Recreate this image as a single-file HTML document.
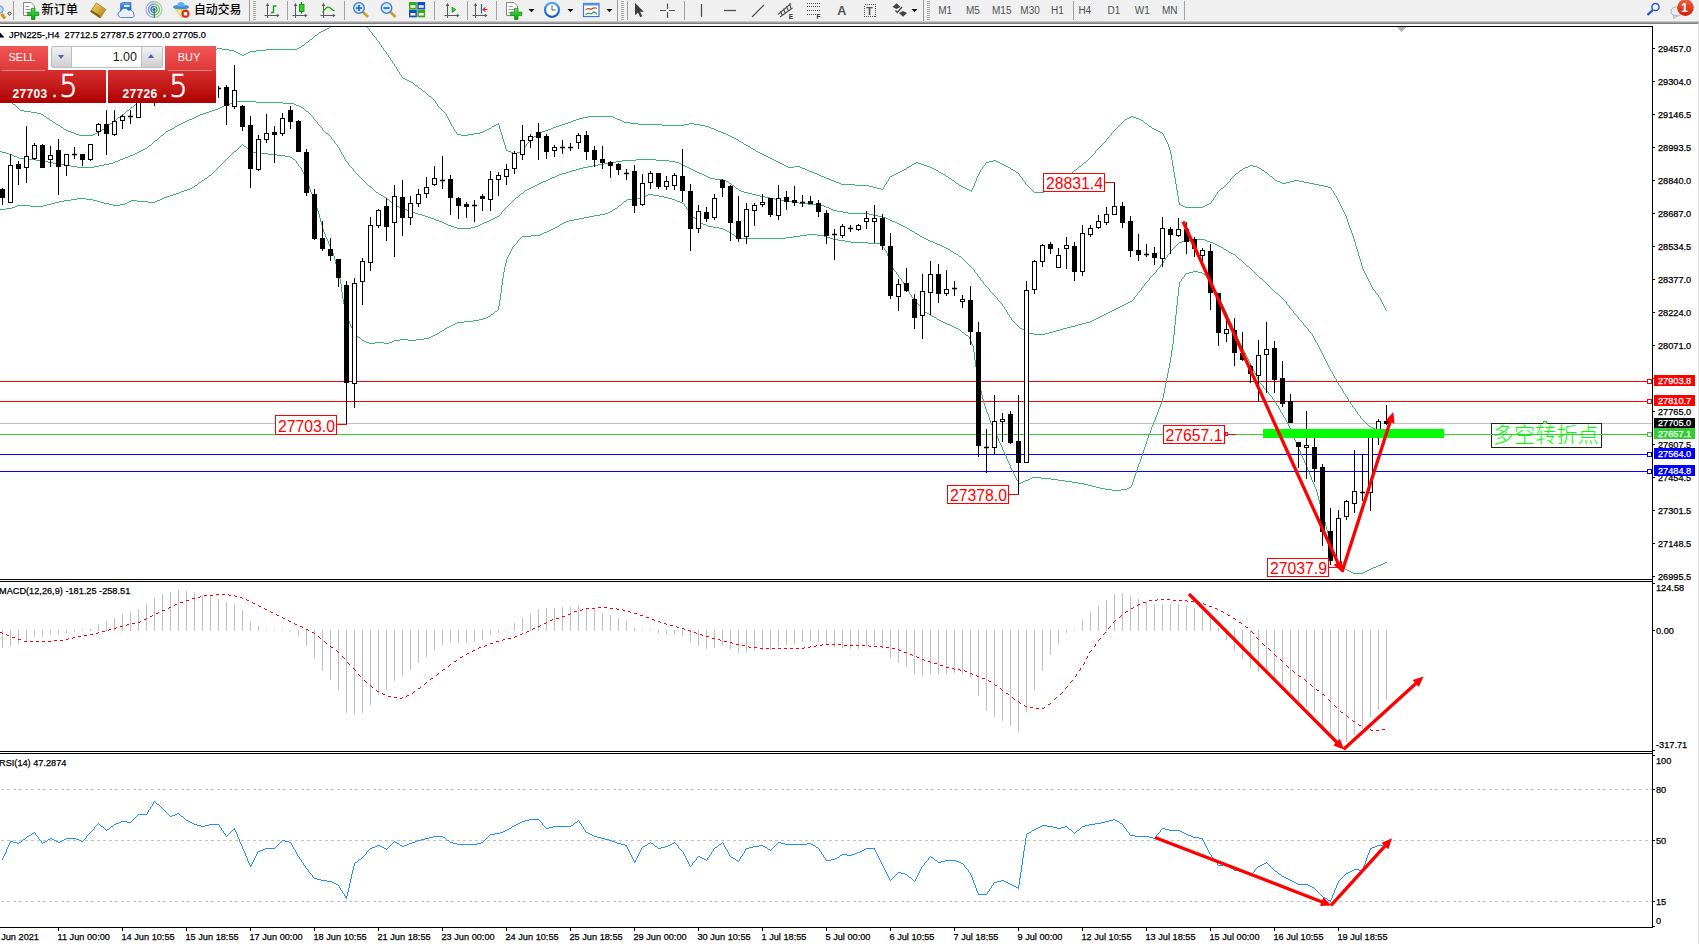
<!DOCTYPE html><html><head><meta charset="utf-8"><title>JPN225 H4</title>
<style>
html,body{margin:0;padding:0;background:#fff;}
body{width:1699px;height:944px;overflow:hidden;position:relative;font-family:"Liberation Sans", "Noto Sans CJK SC", sans-serif;}
#tb{position:absolute;left:0;top:0;width:1699px;height:22px;background:#f0f0f0;}
#tbl{position:absolute;left:0;top:21px;width:1699px;height:3px;background:linear-gradient(#dcdcdc,#a6a6a6 45%,#6c6c6c);}
#chart{position:absolute;left:0;top:0;}
svg text{font-family:"Liberation Sans", "Noto Sans CJK SC", sans-serif;}
.ax{font-size:9.2px;fill:#000;stroke:#000;stroke-width:0.25px;}
.lb{font-size:16px;fill:#f00;}
.tf{font-size:10px;fill:#505050;}
.cn{font-size:12.5px;fill:#000;font-weight:500;}
#panel{position:absolute;left:0;top:46px;width:216px;height:57px;}
#panel div{position:absolute;box-sizing:border-box;}
.pb{background:linear-gradient(#f25555,#e03a3a);color:#fff;font-size:11.5px;text-align:center;line-height:23px;}
.pp{background:linear-gradient(#d83030,#c41a1a 50%,#ae0000);color:#fff;}
.sm{font-weight:bold;font-size:12px;color:#fff;}
.bg{font-family:"DejaVu Sans Light","DejaVu Sans",sans-serif;font-weight:200;font-size:32px;color:#fff;line-height:33px;transform:scaleX(0.9);transform-origin:0 0;-webkit-text-stroke:0.7px #fff;}
</style></head><body>
<div id="tb"></div><div id="tbl"></div>
<svg id="chart" width="1699" height="944" viewBox="0 0 1699 944">
<g shape-rendering="crispEdges">
<rect x="1698" y="23" width="1" height="921" fill="#e3e3e3"/>
<rect x="0" y="26" width="1653" height="1" fill="#000"/>
<rect x="1652" y="26" width="1" height="902" fill="#000"/>
<rect x="0" y="579" width="1653" height="1" fill="#000"/>
<rect x="0" y="581" width="1653" height="1" fill="#000"/>
<rect x="0" y="751" width="1653" height="1" fill="#000"/>
<rect x="0" y="753" width="1653" height="1" fill="#000"/>
<rect x="0" y="927" width="1653" height="1" fill="#000"/>
<polygon points="1396,27 1406,27 1401,32" fill="#b4b4b4"/>
<rect x="0" y="423" width="1652" height="1" fill="#c0c0c0"/>
<rect x="0" y="381" width="1647" height="1" fill="#f00"/>
<rect x="0" y="401" width="1647" height="1" fill="#f00"/>
<rect x="0" y="434" width="1647" height="1" fill="#32cd32"/>
<rect x="0" y="454" width="1647" height="1" fill="#00f"/>
<rect x="0" y="471" width="1647" height="1" fill="#00f"/>
</g>
<clipPath id="cm"><rect x="0" y="27" width="1652" height="552"/></clipPath>
<g clip-path="url(#cm)" shape-rendering="crispEdges">
<path fill="none" stroke="#3cb371" stroke-width="1" d="M340 18.5h16M339.5 19v1M356 19.5h2M337 20.5h2M358.5 20v1M336.5 21v1M359.5 21v1M335.5 22v1M360 22.5h2M334.5 23v1M362.5 23v1M333.5 24v1M363.5 24v1M331 25.5h2M364 25.5h2M330.5 26v1M366.5 26v1M329.5 27v1M367.5 27v1M327 28.5h2M368.5 28v1M325 29.5h2M369.5 29v2M323 30.5h2M321 31.5h2M370.5 31v1M319 32.5h2M371.5 32v1M318.5 33v1M372.5 33v2M317.5 34v1M315 35.5h2M373.5 35v1M314.5 36v1M374.5 36v1M313.5 37v1M375.5 37v1M312.5 38v1M376.5 38v2M310 39.5h2M309.5 40v1M377.5 40v1M308.5 41v1M378.5 41v1M306 42.5h2M379.5 42v2M305.5 43v1M304.5 44v1M380.5 44v1M302 45.5h2M381.5 45v2M301.5 46v1M299 47.5h2M382.5 47v1M217 48.5h5M297 48.5h2M383.5 48v2M214 49.5h3M222 49.5h7M266 49.5h31M210 50.5h4M229 50.5h5M256 50.5h10M384.5 50v1M207 51.5h3M234 51.5h2M250 51.5h6M385.5 51v1M205 52.5h2M236 52.5h2M248 52.5h2M386.5 52v2M203 53.5h2M238 53.5h2M246 53.5h2M202.5 54v1M240 54.5h2M244 54.5h2M387.5 54v1M200 55.5h2M242 55.5h2M388.5 55v2M198 56.5h2M197.5 57v1M389.5 57v1M195 58.5h2M390.5 58v2M194.5 59v1M192 60.5h2M391.5 60v1M191.5 61v1M392.5 61v2M189 62.5h2M188.5 63v1M393.5 63v1M186 64.5h2M394.5 64v2M184 65.5h2M183.5 66v1M395.5 66v1M181 67.5h2M396.5 67v2M180.5 68v1M179.5 69v1M397.5 69v2M177 70.5h2M176.5 71v1M398.5 71v1M175.5 72v1M399.5 72v2M174.5 73v1M172 74.5h2M400.5 74v1M171.5 75v1M401.5 75v2M170.5 76v1M169.5 77v1M402.5 77v1M167 78.5h2M403 78.5h2M166.5 79v1M405 79.5h2M165.5 80v1M407 80.5h2M164.5 81v1M409 81.5h2M162 82.5h2M411 82.5h2M161.5 83v1M413.5 83v1M160.5 84v1M414.5 84v1M159.5 85v1M415 85.5h2M157 86.5h2M417.5 86v1M156.5 87v1M418.5 87v1M155.5 88v1M419 88.5h2M154.5 89v1M421.5 89v1M152 90.5h2M422.5 90v1M151.5 91v1M423 91.5h2M150.5 92v1M425.5 92v1M149.5 93v1M426.5 93v1M147 94.5h2M427.5 94v1M0.5 95v1M146.5 95v1M428.5 95v1M1 96.5h2M145.5 96v1M429 96.5h2M3.5 97v1M144.5 97v1M431.5 97v1M4 98.5h2M143.5 98v1M432.5 98v1M6.5 99v1M141 99.5h2M433.5 99v1M7 100.5h2M140.5 100v1M434.5 100v1M9.5 101v1M139.5 101v1M435.5 101v2M10 102.5h2M138.5 102v1M12.5 103v1M136 103.5h2M436.5 103v1M13 104.5h2M135.5 104v1M437.5 104v2M15.5 105v1M134.5 105v1M16.5 106v1M133.5 106v1M438.5 106v1M17.5 107v1M131 107.5h2M439.5 107v1M18.5 108v1M130.5 108v1M440.5 108v1M19.5 109v1M129.5 109v1M441.5 109v1M20 110.5h4M127 110.5h2M442.5 110v1M24 111.5h7M126.5 111v1M443.5 111v1M31 112.5h6M125.5 112v1M444.5 112v1M37 113.5h4M124.5 113v1M445.5 113v1M41 114.5h2M122 114.5h2M446.5 114v2M43.5 115v1M121.5 115v1M44 116.5h2M120.5 116v1M447.5 116v2M588 116.5h25M1131 116.5h2M46.5 117v1M118 117.5h2M583 117.5h5M613 117.5h2M1129 117.5h2M1133 117.5h3M47 118.5h2M117.5 118v1M448.5 118v2M579 118.5h4M615 118.5h2M1127 118.5h2M1136 118.5h3M49.5 119v1M116.5 119v1M576 119.5h3M617 119.5h3M1125 119.5h2M1139 119.5h2M50 120.5h2M114 120.5h2M449.5 120v2M573 120.5h3M620 120.5h2M1124.5 120v1M1141 120.5h2M52.5 121v1M113.5 121v1M571 121.5h2M622 121.5h2M1123.5 121v1M1143.5 121v1M53 122.5h2M112.5 122v1M450.5 122v2M568 122.5h3M624 122.5h6M1122.5 122v1M1144.5 122v1M55.5 123v1M110 123.5h2M498.5 123v1M565 123.5h3M630 123.5h8M689 123.5h5M1121.5 123v1M1145 123.5h2M56 124.5h2M109.5 124v1M451.5 124v2M496 124.5h3M562 124.5h3M638 124.5h24M684 124.5h5M694 124.5h6M1120.5 124v1M1147.5 124v1M58 125.5h2M108.5 125v1M494 125.5h2M499.5 125v4M559 125.5h3M662 125.5h22M700 125.5h5M1119.5 125v1M1148.5 125v1M60.5 126v1M106 126.5h2M452.5 126v1M492 126.5h2M556 126.5h3M705 126.5h4M1118.5 126v1M1149 126.5h2M61 127.5h2M105.5 127v1M453.5 127v2M491.5 127v1M553 127.5h3M709 127.5h2M1117.5 127v1M1151.5 127v1M63.5 128v1M104.5 128v1M489 128.5h2M551 128.5h2M711 128.5h3M1116.5 128v1M1152 128.5h2M64 129.5h2M102 129.5h2M454.5 129v2M487 129.5h2M500.5 129v3M548 129.5h3M714 129.5h2M1115.5 129v1M1154 129.5h2M66 130.5h2M101.5 130v1M485 130.5h2M545 130.5h3M716 130.5h2M1114.5 130v1M1156 130.5h2M68 131.5h3M99 131.5h2M455.5 131v1M483 131.5h2M542 131.5h3M718 131.5h3M1113.5 131v1M1158 131.5h2M71 132.5h3M97 132.5h2M456.5 132v2M480 132.5h3M501.5 132v3M540 132.5h2M721 132.5h2M1112.5 132v1M1160 132.5h2M74 133.5h2M95 133.5h2M474 133.5h6M538 133.5h2M723 133.5h3M1111.5 133v2M1162.5 133v1M76 134.5h3M93 134.5h2M457 134.5h4M468 134.5h6M537.5 134v1M726 134.5h2M1163.5 134v2M79 135.5h14M461 135.5h7M502.5 135v4M536.5 135v1M728 135.5h2M1110.5 135v1M534 136.5h2M730 136.5h2M1109.5 136v1M1164.5 136v2M533.5 137v1M732 137.5h2M1108.5 137v1M531 138.5h2M734 138.5h2M1107.5 138v1M1165.5 138v2M503.5 139v3M530.5 139v1M736 139.5h2M1106.5 139v2M529.5 140v2M738.5 140v1M1166.5 140v2M739 141.5h2M1105.5 141v1M504.5 142v3M528.5 142v1M741 142.5h2M1104.5 142v1M1167.5 142v2M527.5 143v1M743.5 143v1M1103.5 143v1M526.5 144v2M744 144.5h2M1102.5 144v1M1168.5 144v3M505.5 145v4M746 145.5h2M1101.5 145v1M525.5 146v1M748 146.5h2M1100.5 146v1M524.5 147v2M750.5 147v1M1099.5 147v1M1169.5 147v3M751 148.5h2M1098.5 148v1M506.5 149v1M523.5 149v2M753 149.5h2M1097.5 149v1M506 150.5h2M755.5 150v1M1096.5 150v1M1170.5 150v4M508 151.5h3M521 151.5h2M756 151.5h2M1095.5 151v2M511 152.5h2M517 152.5h4M758 152.5h2M513 153.5h4M760 153.5h2M1094.5 153v1M762 154.5h2M1093.5 154v1M1171.5 154v6M764 155.5h2M1092.5 155v1M766 156.5h2M1091.5 156v1M768 157.5h2M1090.5 157v1M770 158.5h2M1089.5 158v1M772 159.5h2M1088.5 159v1M774 160.5h2M993 160.5h3M1087.5 160v1M1172.5 160v6M776 161.5h2M989 161.5h4M996 161.5h2M1086.5 161v1M778 162.5h2M916 162.5h2M986 162.5h3M998 162.5h2M1084 162.5h2M780 163.5h2M914 163.5h2M918 163.5h3M985.5 163v2M1000 163.5h2M1083.5 163v1M782 164.5h2M912 164.5h2M921 164.5h3M1002 164.5h2M1082.5 164v1M784 165.5h2M911.5 165v1M924 165.5h3M984.5 165v1M1004 165.5h2M1081.5 165v1M1250 165.5h3M786 166.5h2M794 166.5h6M909 166.5h2M927 166.5h3M983.5 166v1M1006 166.5h2M1079 166.5h2M1173.5 166v6M1248 166.5h2M1253 166.5h4M788 167.5h6M800 167.5h2M907 167.5h2M930 167.5h2M982.5 167v2M1008 167.5h2M1078.5 167v1M1245 167.5h3M1257 167.5h2M802 168.5h3M906.5 168v1M932 168.5h2M1010.5 168v1M1077.5 168v1M1243 168.5h2M1259 168.5h2M805 169.5h2M904 169.5h2M934 169.5h2M981.5 169v1M1011 169.5h2M1076.5 169v1M1242.5 169v1M1261.5 169v1M807 170.5h2M902 170.5h2M936 170.5h2M980.5 170v2M1013 170.5h2M1074 170.5h2M1240 170.5h2M1262 170.5h2M809 171.5h3M900 171.5h2M938.5 171v1M1015.5 171v1M1073.5 171v1M1239.5 171v1M1264.5 171v1M812 172.5h2M898 172.5h2M939 172.5h2M979.5 172v2M1016 172.5h2M1072.5 172v1M1174.5 172v6M1238.5 172v1M1265 172.5h2M814 173.5h3M896 173.5h2M941 173.5h2M1018.5 173v1M1070 173.5h2M1236 173.5h2M1267.5 173v1M817 174.5h2M894 174.5h2M943 174.5h2M978.5 174v2M1019.5 174v2M1069.5 174v1M1235.5 174v1M1268.5 174v1M819 175.5h2M892 175.5h2M945.5 175v1M1068.5 175v1M1234.5 175v1M1269.5 175v1M821 176.5h3M890 176.5h2M946 176.5h2M977.5 176v2M1020.5 176v1M1066 176.5h2M1233.5 176v1M1270 176.5h2M824 177.5h2M889.5 177v2M948.5 177v1M1021.5 177v1M1065.5 177v1M1232.5 177v1M1272.5 177v1M826 178.5h3M949 178.5h2M976.5 178v3M1022.5 178v2M1063 178.5h2M1175.5 178v6M1231.5 178v1M1273.5 178v1M829 179.5h2M888.5 179v2M951.5 179v1M1062.5 179v1M1230.5 179v2M1274.5 179v1M831 180.5h3M952 180.5h2M1023.5 180v1M1060 180.5h2M1275 180.5h2M1294 180.5h5M834 181.5h2M887.5 181v1M954.5 181v1M975.5 181v2M1024.5 181v1M1059.5 181v1M1229.5 181v1M1277 181.5h3M1290 181.5h4M1299 181.5h5M836 182.5h3M886.5 182v2M955.5 182v1M1025.5 182v2M1058.5 182v1M1228.5 182v1M1280 182.5h2M1286 182.5h4M1304 182.5h5M839 183.5h2M956 183.5h2M974.5 183v3M1056 183.5h2M1227.5 183v1M1282 183.5h4M1309 183.5h5M841 184.5h14M885.5 184v1M958.5 184v1M1026.5 184v1M1055.5 184v1M1176.5 184v6M1226.5 184v1M1314 184.5h5M855 185.5h14M884.5 185v2M959 185.5h2M1027.5 185v1M1053 185.5h2M1225.5 185v1M1319 185.5h5M869 186.5h4M961 186.5h2M973.5 186v2M1028.5 186v1M1052.5 186v1M1224.5 186v1M1324 186.5h4M873 187.5h4M883.5 187v2M963 187.5h2M1029.5 187v1M1050 187.5h2M1223.5 187v1M1328 187.5h3M877 188.5h4M965 188.5h2M972.5 188v2M1030.5 188v1M1049.5 188v1M1221 188.5h2M1331.5 188v2M881 189.5h2M967 189.5h2M1031.5 189v1M1047 189.5h2M1220.5 189v1M969 190.5h3M1032.5 190v1M1046.5 190v1M1177.5 190v6M1219.5 190v1M1332.5 190v1M971.5 191v1M1033.5 191v1M1044 191.5h2M1218.5 191v1M1333.5 191v2M1034 192.5h10M1217.5 192v2M1334.5 193v2M1216.5 194v1M1215.5 195v2M1335.5 195v1M1178.5 196v6M1336.5 196v2M1214.5 197v1M1213.5 198v2M1337.5 198v2M1212.5 200v1M1338.5 200v2M1211.5 201v2M1179.5 202v2M1339.5 202v2M1209 203.5h2M1179 204.5h2M1207 204.5h2M1340.5 204v2M1181 205.5h2M1205 205.5h2M1183 206.5h2M1203 206.5h2M1341.5 206v2M1185 207.5h18M1342.5 208v2M1343.5 210v2M1344.5 212v2M1345.5 214v2M1346.5 216v3M1347.5 219v3M1348.5 222v3M1349.5 225v3M1350.5 228v2M1351.5 230v3M1352.5 233v3M1353.5 236v3M1354.5 239v3M1355.5 242v4M1356.5 246v3M1357.5 249v3M1358.5 252v4M1359.5 256v3M1360.5 259v3M1361.5 262v4M1362.5 266v3M1363.5 269v2M1364.5 271v2M1365.5 273v2M1366.5 275v2M1367.5 277v2M1368.5 279v2M1369.5 281v2M1370.5 283v2M1371.5 285v2M1372.5 287v2M1373.5 289v1M1374.5 290v1M1375.5 291v2M1376.5 293v1M1377.5 294v1M1378.5 295v2M1379.5 297v1M1380.5 298v2M1381.5 300v2M1382.5 302v2M1383.5 304v2M1384.5 306v2M1385.5 308v2M1386.5 310v1"/>
<path fill="none" stroke="#3cb371" stroke-width="1" d="M237 101.5h19M234 102.5h3M256 102.5h27M230 103.5h4M283 103.5h11M227 104.5h3M294 104.5h2M224 105.5h3M296 105.5h3M222 106.5h2M299 106.5h2M220 107.5h2M301 107.5h2M218 108.5h2M303.5 108v1M215 109.5h3M304.5 109v1M212 110.5h3M305.5 110v1M209 111.5h3M306 111.5h2M206 112.5h3M308.5 112v1M203 113.5h3M309.5 113v1M200 114.5h3M310.5 114v1M198 115.5h2M311.5 115v1M196 116.5h2M312.5 116v1M194 117.5h2M313.5 117v2M192 118.5h2M189 119.5h3M314.5 119v1M187 120.5h2M315.5 120v1M185 121.5h2M316.5 121v1M183 122.5h2M317.5 122v2M181 123.5h2M179 124.5h2M318.5 124v1M177 125.5h2M319.5 125v1M175 126.5h2M320.5 126v1M174.5 127v1M321.5 127v1M172 128.5h2M322.5 128v2M170 129.5h2M168 130.5h2M323.5 130v1M166 131.5h2M324.5 131v1M165.5 132v1M325.5 132v1M164.5 133v1M326 133.5h2M163.5 134v1M328.5 134v1M161 135.5h2M329.5 135v1M160.5 136v1M330.5 136v1M159.5 137v1M331.5 137v2M158.5 138v1M157.5 139v1M332.5 139v1M155 140.5h2M333.5 140v1M154.5 141v1M334.5 141v2M153.5 142v1M152.5 143v1M335.5 143v1M151.5 144v1M336.5 144v1M149 145.5h2M337.5 145v2M148.5 146v1M147.5 147v1M338.5 147v1M145 148.5h2M339.5 148v2M143 149.5h2M141 150.5h2M340.5 150v2M0 151.5h2M139 151.5h2M2 152.5h4M137 152.5h2M341.5 152v2M6 153.5h3M135 153.5h2M9 154.5h3M133 154.5h2M342.5 154v1M12 155.5h2M130 155.5h3M343.5 155v2M14 156.5h3M128 156.5h2M17 157.5h2M125 157.5h3M344.5 157v2M19 158.5h7M123 158.5h2M26 159.5h10M120 159.5h3M345.5 159v2M636 159.5h20M36 160.5h7M118 160.5h2M622 160.5h14M656 160.5h13M43 161.5h5M115 161.5h3M346.5 161v1M616 161.5h6M669 161.5h6M48 162.5h5M113 162.5h2M347.5 162v1M610 162.5h6M675 162.5h4M53 163.5h5M109 163.5h4M348.5 163v2M604 163.5h6M679 163.5h2M58 164.5h6M104 164.5h5M598 164.5h6M681 164.5h2M64 165.5h7M99 165.5h5M349.5 165v1M593 165.5h5M683 165.5h2M71 166.5h6M94 166.5h5M350.5 166v1M588 166.5h5M685 166.5h2M77 167.5h17M351.5 167v1M583 167.5h5M687 167.5h2M352.5 168v1M579 168.5h4M689 168.5h2M353.5 169v2M576 169.5h3M691 169.5h2M572 170.5h4M693 170.5h2M354.5 171v1M569 171.5h3M695 171.5h2M355.5 172v1M566 172.5h3M697 172.5h2M356.5 173v1M562 173.5h4M699 173.5h3M357.5 174v1M559 174.5h3M702 174.5h2M358.5 175v1M557 175.5h2M704 175.5h2M359.5 176v1M555 176.5h2M706 176.5h2M360.5 177v1M552 177.5h3M708 177.5h2M361.5 178v1M550 178.5h2M710 178.5h5M362.5 179v1M548 179.5h2M715 179.5h7M363.5 180v1M546 180.5h2M722 180.5h4M364.5 181v1M543 181.5h3M726 181.5h2M365.5 182v1M541 182.5h2M728.5 182v1M366.5 183v1M539 183.5h2M729 183.5h2M367.5 184v1M537 184.5h2M731.5 184v1M368.5 185v1M535 185.5h2M732 185.5h2M369 186.5h2M533 186.5h2M734.5 186v1M371.5 187v1M531 187.5h2M735.5 187v1M372.5 188v1M529 188.5h2M736 188.5h2M373.5 189v1M527 189.5h2M738.5 189v1M374.5 190v1M525 190.5h2M739 190.5h2M375.5 191v1M524.5 191v1M741 191.5h3M376 192.5h2M523.5 192v1M744 192.5h4M378.5 193v1M521 193.5h2M748 193.5h4M379 194.5h2M520.5 194v1M752 194.5h4M381 195.5h2M519.5 195v1M756 195.5h4M383.5 196v1M518.5 196v1M760 196.5h5M384 197.5h2M516 197.5h2M765 197.5h5M386.5 198v1M515.5 198v1M770 198.5h5M387 199.5h2M514.5 199v1M775 199.5h5M389.5 200v1M513.5 200v1M780 200.5h6M390.5 201v1M512.5 201v1M786 201.5h7M391 202.5h2M511.5 202v1M793 202.5h6M393.5 203v1M510.5 203v1M799 203.5h9M394.5 204v1M509.5 204v1M808 204.5h10M395 205.5h2M508.5 205v1M818 205.5h6M397 206.5h2M507.5 206v1M824 206.5h2M399 207.5h3M506.5 207v1M826 207.5h3M402 208.5h2M505.5 208v1M829 208.5h2M404 209.5h3M504.5 209v1M831 209.5h2M407 210.5h3M503.5 210v1M833 210.5h4M410 211.5h2M502.5 211v1M837 211.5h6M412 212.5h3M501.5 212v2M843 212.5h5M415 213.5h3M848 213.5h21M418 214.5h4M500.5 214v1M869 214.5h4M422 215.5h3M499.5 215v1M873 215.5h5M425 216.5h3M497 216.5h2M878 216.5h4M428 217.5h3M495 217.5h2M882 217.5h4M431 218.5h3M493 218.5h2M886 218.5h2M434 219.5h2M491 219.5h2M888 219.5h2M436 220.5h3M489 220.5h2M890 220.5h2M439 221.5h3M487 221.5h2M892 221.5h3M442 222.5h2M484 222.5h3M895 222.5h2M444 223.5h2M482 223.5h2M897 223.5h2M446 224.5h2M480 224.5h2M899 224.5h2M448 225.5h3M478 225.5h2M901 225.5h2M451 226.5h3M475 226.5h3M903 226.5h2M454 227.5h3M471 227.5h4M905 227.5h2M457 228.5h14M907 228.5h2M909.5 229v1M910 230.5h2M912 231.5h2M914.5 232v1M915 233.5h2M917 234.5h2M919.5 235v1M920 236.5h2M922 237.5h2M924 238.5h2M926 239.5h2M1196 239.5h9M928 240.5h2M1186 240.5h10M1205 240.5h2M930 241.5h3M1182 241.5h4M1207 241.5h3M933 242.5h2M1179 242.5h3M1210 242.5h3M935 243.5h2M1178.5 243v1M1213 243.5h2M937 244.5h3M1177.5 244v1M1215 244.5h2M940 245.5h2M1176.5 245v1M1217 245.5h2M942 246.5h2M1175.5 246v1M1219 246.5h2M944 247.5h2M1174.5 247v1M1221 247.5h2M946 248.5h2M1173.5 248v1M1223.5 248v1M948 249.5h2M1172.5 249v1M1224 249.5h2M950.5 250v1M1171.5 250v1M1226 250.5h2M951 251.5h2M1170.5 251v2M1228.5 251v1M953.5 252v1M1229 252.5h2M954 253.5h2M1169.5 253v1M1231 253.5h2M956 254.5h2M1168.5 254v1M1233 254.5h2M958.5 255v1M1167.5 255v2M1235.5 255v1M959 256.5h2M1236.5 256v1M961.5 257v1M1166.5 257v1M1237.5 257v1M962.5 258v1M1165.5 258v2M1238.5 258v1M963.5 259v1M1239 259.5h2M964.5 260v1M1164.5 260v1M1241.5 260v1M965.5 261v1M1163.5 261v2M1242.5 261v1M966.5 262v1M1243.5 262v1M967.5 263v1M1162.5 263v1M1244.5 263v1M968.5 264v1M1161.5 264v1M1245.5 264v1M969.5 265v1M1160.5 265v2M1246.5 265v1M970.5 266v1M1247 266.5h2M971.5 267v1M1159.5 267v1M1249.5 267v1M972.5 268v1M1158.5 268v1M1250.5 268v1M973.5 269v1M1157.5 269v1M1251.5 269v1M974.5 270v2M1156.5 270v2M1252.5 270v1M1253.5 271v1M975.5 272v1M1155.5 272v1M1254.5 272v1M976.5 273v1M1154.5 273v1M1255.5 273v1M977.5 274v2M1153.5 274v1M1256.5 274v1M1152.5 275v1M1257.5 275v1M978.5 276v1M1151.5 276v1M1258.5 276v1M979.5 277v1M1150.5 277v1M1259.5 277v1M980.5 278v2M1149.5 278v2M1260 278.5h2M1262.5 279v1M981.5 280v1M1148.5 280v1M1263.5 280v1M982.5 281v1M1147.5 281v1M1264.5 281v1M983.5 282v2M1146.5 282v1M1265.5 282v1M1145.5 283v1M1266.5 283v1M984.5 284v1M1144.5 284v2M1267.5 284v1M985.5 285v1M1268.5 285v1M986.5 286v1M1143.5 286v1M1269.5 286v1M987.5 287v1M1142.5 287v1M1270.5 287v1M988.5 288v1M1141.5 288v2M1271.5 288v1M989.5 289v2M1272.5 289v1M1140.5 290v1M1273.5 290v1M990.5 291v1M1139.5 291v1M1274.5 291v1M991.5 292v1M1138.5 292v1M1275.5 292v1M992.5 293v1M1137.5 293v2M1276 293.5h2M993.5 294v1M1278.5 294v1M994.5 295v1M1136.5 295v1M1279.5 295v1M995.5 296v1M1135.5 296v1M1280.5 296v1M996.5 297v1M1134.5 297v2M1281.5 297v1M997.5 298v2M1282.5 298v1M1133.5 299v1M1283.5 299v1M998.5 300v1M1132.5 300v1M1284.5 300v1M999.5 301v1M1130 301.5h2M1285.5 301v1M1000.5 302v1M1128 302.5h2M1286.5 302v2M1001.5 303v1M1126 303.5h2M1002.5 304v2M1124 304.5h2M1287.5 304v1M1122 305.5h2M1288.5 305v1M1003.5 306v1M1120 306.5h2M1289.5 306v2M1004.5 307v2M1118 307.5h2M1116 308.5h2M1290.5 308v1M1005.5 309v1M1114 309.5h2M1291.5 309v1M1006.5 310v2M1112 310.5h2M1292.5 310v1M1110 311.5h2M1293.5 311v2M1007.5 312v2M1108 312.5h2M1106 313.5h2M1294.5 313v1M1008.5 314v1M1104 314.5h2M1295.5 314v1M1009.5 315v2M1102 315.5h2M1296.5 315v1M1100 316.5h2M1297.5 316v1M1010.5 317v1M1098 317.5h2M1298.5 317v2M1011.5 318v2M1096 318.5h2M1094 319.5h2M1299.5 319v1M1012.5 320v1M1092 320.5h2M1300.5 320v1M1013.5 321v1M1090 321.5h2M1301.5 321v1M1014.5 322v1M1086 322.5h4M1302.5 322v1M1015.5 323v1M1082 323.5h4M1303.5 323v2M1016.5 324v1M1078 324.5h4M1017.5 325v1M1075 325.5h3M1304.5 325v1M1018.5 326v1M1071 326.5h4M1305.5 326v1M1019.5 327v1M1067 327.5h4M1306.5 327v1M1020 328.5h2M1063 328.5h4M1307.5 328v1M1022 329.5h2M1060 329.5h3M1308.5 329v2M1024.5 330v1M1056 330.5h4M1025 331.5h2M1053 331.5h3M1309.5 331v1M1027 332.5h2M1049 332.5h4M1310.5 332v1M1029 333.5h5M1045 333.5h4M1311.5 333v1M1034 334.5h11M1312.5 334v2M1313.5 336v2M1314.5 338v2M1315.5 340v2M1316.5 342v1M1317.5 343v2M1318.5 345v2M1319.5 347v2M1320.5 349v2M1321.5 351v2M1322.5 353v2M1323.5 355v2M1324.5 357v2M1325.5 359v2M1326.5 361v2M1327.5 363v2M1328.5 365v2M1329.5 367v2M1330.5 369v2M1331.5 371v1M1332.5 372v2M1333.5 374v2M1334.5 376v2M1335.5 378v1M1336.5 379v2M1337.5 381v2M1338.5 383v2M1339.5 385v1M1340.5 386v2M1341.5 388v1M1342.5 389v2M1343.5 391v2M1344.5 393v1M1345.5 394v2M1346.5 396v1M1347.5 397v2M1348.5 399v2M1349.5 401v1M1350.5 402v2M1351.5 404v1M1352.5 405v2M1353.5 407v1M1354.5 408v1M1355.5 409v2M1356.5 411v1M1357.5 412v2M1358.5 414v1M1359.5 415v1M1360.5 416v2M1361.5 418v1M1362.5 419v1M1363.5 420v1M1364.5 421v1M1365.5 422v1M1366.5 423v1M1367.5 424v1M1368.5 425v1M1369 426.5h2M1371 427.5h2M1373 428.5h2M1375 429.5h7M1382 430.5h5"/>
<path fill="none" stroke="#3cb371" stroke-width="1" d="M242.5 144v1M241.5 145v1M243.5 145v1M240.5 146v1M244 146.5h2M239.5 147v1M246.5 147v1M238.5 148v1M247.5 148v1M237.5 149v1M248.5 149v1M236.5 150v1M249 150.5h2M234 151.5h2M251.5 151v1M233.5 152v1M252 152.5h6M232.5 153v1M258 153.5h10M231.5 154v1M268 154.5h9M230.5 155v1M277 155.5h8M229.5 156v1M285 156.5h5M228.5 157v1M290 157.5h2M227.5 158v1M292.5 158v1M226.5 159v1M293 159.5h2M225.5 160v1M295.5 160v1M224.5 161v1M296.5 161v2M223.5 162v1M222.5 163v1M297.5 163v1M221.5 164v1M298.5 164v2M220.5 165v1M219.5 166v1M299.5 166v1M218.5 167v1M300.5 167v1M217.5 168v1M301.5 168v2M216.5 169v1M215.5 170v1M302.5 170v2M214.5 171v1M213.5 172v1M303.5 172v2M212.5 173v1M211.5 174v1M304.5 174v3M209 175.5h2M208.5 176v1M207.5 177v1M305.5 177v2M205 178.5h2M204.5 179v1M306.5 179v2M202 180.5h2M201.5 181v1M307.5 181v3M199 182.5h2M198.5 183v1M197.5 184v1M308.5 184v2M195 185.5h2M194.5 186v1M309.5 186v3M192 187.5h2M190 188.5h2M187 189.5h3M310.5 189v3M184 190.5h3M181 191.5h3M179 192.5h2M311.5 192v2M176 193.5h3M173 194.5h3M312.5 194v3M648 194.5h5M170 195.5h3M646 195.5h2M653 195.5h6M167 196.5h3M643 196.5h3M659 196.5h5M164 197.5h3M313.5 197v3M641 197.5h2M664 197.5h4M77 198.5h9M162 198.5h2M634 198.5h7M668 198.5h4M71 199.5h6M86 199.5h7M160 199.5h2M627 199.5h7M672 199.5h3M64 200.5h7M93 200.5h4M131 200.5h6M157 200.5h3M314.5 200v3M626.5 200v1M675 200.5h2M59 201.5h5M97 201.5h3M129 201.5h2M137 201.5h11M155 201.5h2M624 201.5h2M677 201.5h3M55 202.5h4M100 202.5h4M127 202.5h2M148 202.5h7M623.5 202v1M680 202.5h2M51 203.5h4M104 203.5h5M125 203.5h2M315.5 203v3M622.5 203v1M682 203.5h2M47 204.5h4M109 204.5h4M120 204.5h5M621.5 204v1M684.5 204v2M17 205.5h13M43 205.5h4M113 205.5h7M619 205.5h2M15 206.5h2M30 206.5h13M316.5 206v2M618.5 206v1M685.5 206v1M12 207.5h3M617.5 207v1M686.5 207v2M6 208.5h6M317.5 208v3M615 208.5h2M0 209.5h6M613 209.5h2M687.5 209v1M612.5 210v1M688.5 210v2M318.5 211v3M610 211.5h2M608 212.5h2M689.5 212v1M605 213.5h3M690.5 213v2M319.5 214v4M600 214.5h5M594 215.5h6M691.5 215v1M589 216.5h5M692.5 216v1M584 217.5h5M693 217.5h2M320.5 218v4M579 218.5h5M695.5 218v1M574 219.5h5M696.5 219v1M569 220.5h5M697.5 220v1M566 221.5h3M698 221.5h2M321.5 222v3M564 222.5h2M700.5 222v1M562 223.5h2M701 223.5h2M560 224.5h2M703 224.5h3M322.5 225v4M559.5 225v1M706 225.5h2M557 226.5h2M708 226.5h5M555 227.5h2M713 227.5h6M553 228.5h2M719 228.5h4M323.5 229v3M551 229.5h2M723 229.5h2M549 230.5h2M725 230.5h2M547 231.5h2M727 231.5h2M324.5 232v2M544 232.5h3M729.5 232v1M542 233.5h2M730 233.5h2M325.5 234v3M540 234.5h2M732 234.5h2M807 234.5h10M531 235.5h9M734.5 235v1M800 235.5h7M817 235.5h7M522 236.5h9M735 236.5h2M793 236.5h7M824 236.5h3M326.5 237v2M521.5 237v1M737 237.5h2M786 237.5h7M827 237.5h3M520.5 238v1M739 238.5h47M830 238.5h3M327.5 239v2M519.5 239v1M833 239.5h5M518.5 240v1M838 240.5h7M328.5 241v3M517.5 241v2M845 241.5h6M851 242.5h17M516.5 243v1M868 243.5h13M329.5 244v2M515.5 244v1M881.5 244v2M514.5 245v1M330.5 246v3M513.5 246v1M882.5 246v1M512.5 247v2M883.5 247v1M884.5 248v2M331.5 249v2M511.5 249v2M885.5 250v1M332.5 251v2M510.5 251v2M886.5 251v2M333.5 253v3M509.5 253v2M887.5 253v3M508.5 255v2M334.5 256v4M888.5 256v2M507.5 257v2M889.5 258v3M506.5 259v4M335.5 260v4M890.5 261v3M505.5 263v4M336.5 264v4M891.5 264v2M892.5 266v2M504.5 267v5M337.5 268v3M893.5 268v2M894.5 270v1M338.5 271v4M895.5 271v1M1193 271.5h5M503.5 272v6M896.5 272v2M1189 272.5h4M1198 272.5h4M1186 273.5h3M1202 273.5h2M897.5 274v1M1185.5 274v1M1204.5 274v1M339.5 275v4M898.5 275v2M1184.5 275v2M1205.5 275v1M1206.5 276v1M899.5 277v1M1183.5 277v1M1207.5 277v1M502.5 278v7M900.5 278v1M1182.5 278v1M1208.5 278v1M340.5 279v5M901.5 279v2M1181.5 279v2M1209.5 279v1M1210.5 280v2M902.5 281v1M1180.5 281v1M903.5 282v2M1179.5 282v5M1211.5 282v2M341.5 284v8M904.5 284v2M1212.5 284v2M501.5 285v8M905.5 286v1M1213.5 286v2M906.5 287v2M1178.5 287v9M1214.5 288v2M907.5 289v1M908.5 290v2M1215.5 290v2M342.5 292v7M909.5 292v2M1216.5 292v2M500.5 293v7M910.5 294v1M1217.5 294v2M911.5 295v2M1177.5 296v9M1218.5 296v2M912.5 297v1M913.5 298v1M1219.5 298v2M343.5 299v5M914.5 299v1M499.5 300v6M915.5 300v2M1220.5 300v2M916.5 302v1M1221.5 302v2M917.5 303v1M344.5 304v3M918.5 304v1M1222.5 304v2M919.5 305v1M1176.5 305v10M498.5 306v4M920.5 306v1M1223.5 306v2M345.5 307v4M921.5 307v2M1224.5 308v2M922.5 309v1M497.5 310v1M923.5 310v1M1225.5 310v2M346.5 311v3M495 311.5h2M924.5 311v1M494.5 312v1M925 312.5h2M1226.5 312v2M493.5 313v1M927 313.5h2M347.5 314v3M491 314.5h2M929.5 314v1M1227.5 314v3M490.5 315v1M930 315.5h2M1175.5 315v10M488 316.5h2M932 316.5h2M348.5 317v4M486 317.5h2M934 317.5h2M1228.5 317v2M483 318.5h3M936.5 318v1M479 319.5h4M937 319.5h2M1229.5 319v2M473 320.5h6M939 320.5h2M349.5 321v3M464 321.5h9M941 321.5h2M1230.5 321v2M457 322.5h7M943 322.5h2M455 323.5h2M945 323.5h2M1231.5 323v2M350.5 324v2M453 324.5h2M947 324.5h3M451 325.5h2M950 325.5h2M1174.5 325v10M1232.5 325v3M351.5 326v2M449 326.5h2M952 326.5h2M447 327.5h2M954 327.5h2M352.5 328v1M445 328.5h2M956 328.5h2M1233.5 328v2M353.5 329v2M444.5 329v1M958 329.5h2M442 330.5h2M960.5 330v1M1234.5 330v2M354.5 331v2M440 331.5h2M961.5 331v1M439.5 332v1M962 332.5h2M1235.5 332v2M355.5 333v1M437 333.5h2M964.5 333v1M356.5 334v2M435 334.5h2M965.5 334v1M1236.5 334v2M433 335.5h2M966 335.5h2M1173.5 335v9M357.5 336v1M431 336.5h2M968.5 336v1M1237.5 336v3M358 337.5h2M429 337.5h2M969.5 337v2M360.5 338v1M424 338.5h5M361.5 339v1M400 339.5h8M416 339.5h8M970.5 339v2M1238.5 339v2M362 340.5h2M394 340.5h6M408 340.5h8M364 341.5h2M392 341.5h2M971.5 341v3M1239.5 341v2M366 342.5h3M375 342.5h9M389 342.5h3M369 343.5h6M384 343.5h5M1240.5 343v2M972.5 344v2M1172.5 344v6M1241.5 345v2M973.5 346v6M1242.5 347v2M1243.5 349v2M1171.5 350v7M1244.5 351v2M974.5 352v8M1245.5 353v2M1246.5 355v2M1170.5 357v6M1247.5 357v2M1248.5 359v2M975.5 360v7M1249.5 361v2M1169.5 363v5M1250.5 363v2M1251.5 365v2M976.5 367v5M1252.5 367v2M1168.5 368v5M1253.5 369v2M1254.5 371v2M977.5 372v5M1167.5 373v5M1255.5 373v2M1256.5 375v2M978.5 377v4M1257.5 377v2M1166.5 378v5M1258.5 379v2M979.5 381v5M1259.5 381v2M1165.5 383v5M1260.5 383v1M1261.5 384v1M1262.5 385v1M980.5 386v5M1263.5 386v2M1164.5 388v5M1264.5 388v1M1265.5 389v1M1266.5 390v1M981.5 391v4M1267.5 391v1M1268.5 392v2M1163.5 393v5M1269.5 394v1M982.5 395v4M1270.5 395v1M1271.5 396v1M1272.5 397v2M1162.5 398v4M983.5 399v4M1273.5 399v1M1274.5 400v1M1275.5 401v2M1161.5 402v2M984.5 403v3M1276.5 403v2M1160.5 404v3M1277.5 405v1M985.5 406v3M1278.5 406v2M1159.5 407v2M1279.5 408v2M986.5 409v3M1158.5 409v3M1280.5 410v2M987.5 412v2M1157.5 412v3M1281.5 412v1M1282.5 413v2M988.5 414v3M1156.5 415v2M1283.5 415v2M989.5 417v3M1155.5 417v3M1284.5 417v1M1285.5 418v2M990.5 420v3M1154.5 420v2M1286.5 420v2M1153.5 422v3M1287.5 422v2M991.5 423v2M1288.5 424v2M992.5 425v2M1152.5 425v2M1289.5 426v2M993.5 427v2M1151.5 427v3M1290.5 428v3M994.5 429v3M1150.5 430v3M1291.5 431v2M995.5 432v2M1149.5 433v2M1292.5 433v2M996.5 434v2M1148.5 435v3M1293.5 435v2M997.5 436v2M1294.5 437v3M998.5 438v3M1147.5 438v3M1295.5 440v2M999.5 441v2M1146.5 441v3M1296.5 442v2M1000.5 443v2M1145.5 444v3M1297.5 444v3M1001.5 445v2M1002.5 447v3M1144.5 447v3M1298.5 447v2M1299.5 449v2M1003.5 450v2M1143.5 450v3M1300.5 451v3M1004.5 452v2M1142.5 453v3M1005.5 454v2M1301.5 454v2M1006.5 456v3M1141.5 456v3M1302.5 456v2M1303.5 458v2M1007.5 459v2M1140.5 459v3M1304.5 460v3M1008.5 461v2M1139.5 462v2M1009.5 463v2M1305.5 463v2M1138.5 464v3M1010.5 465v3M1306.5 465v2M1137.5 467v3M1307.5 467v3M1011.5 468v2M1012.5 470v2M1136.5 470v3M1308.5 470v2M1013.5 472v2M1309.5 472v3M1135.5 473v3M1014.5 474v2M1310.5 475v2M1015.5 476v2M1134.5 476v3M1032 477.5h9M1311.5 477v3M1016.5 478v2M1030 478.5h2M1041 478.5h10M1028 479.5h2M1051 479.5h7M1133.5 479v3M1017.5 480v1M1025 480.5h3M1058 480.5h7M1312.5 480v2M1018.5 481v2M1023 481.5h2M1065 481.5h7M1021 482.5h2M1072 482.5h6M1132.5 482v3M1313.5 482v2M1019 483.5h2M1078 483.5h6M1084 484.5h4M1314.5 484v3M1088 485.5h4M1131.5 485v2M1092 486.5h4M1096 487.5h4M1129 487.5h2M1315.5 487v2M1100 488.5h5M1127 488.5h2M1105 489.5h7M1121 489.5h6M1316.5 489v3M1112 490.5h9M1317.5 492v4M1318.5 496v4M1319.5 500v4M1320.5 504v4M1321.5 508v4M1322.5 512v3M1323.5 515v4M1324.5 519v3M1325.5 522v4M1326.5 526v4M1327.5 530v3M1328.5 533v4M1329.5 537v3M1330.5 540v4M1331.5 544v4M1332.5 548v3M1333.5 551v4M1334.5 555v2M1335.5 557v1M1336.5 558v1M1337.5 559v2M1338.5 561v1M1339.5 562v1M1385 562.5h2M1340.5 563v1M1383 563.5h2M1341.5 564v1M1381 564.5h2M1342.5 565v2M1378 565.5h3M1376 566.5h2M1343.5 567v1M1373 567.5h3M1344.5 568v1M1371 568.5h2M1345 569.5h2M1369 569.5h2M1347 570.5h2M1367 570.5h2M1349 571.5h2M1365 571.5h2M1351 572.5h2M1363 572.5h2M1353 573.5h10"/>
<rect x="2" y="188" width="1" height="17" fill="#000"/>
<rect x="0" y="189" width="5" height="9" fill="#000"/>
<rect x="10" y="154" width="1" height="49" fill="#000"/>
<rect x="8.5" y="165.5" width="4" height="37" fill="#fff" stroke="#000" stroke-width="1"/>
<rect x="18" y="161" width="1" height="24" fill="#000"/>
<rect x="16" y="164" width="5" height="5" fill="#000"/>
<rect x="26" y="126" width="1" height="57" fill="#000"/>
<rect x="24.5" y="156.5" width="4" height="11" fill="#fff" stroke="#000" stroke-width="1"/>
<rect x="34" y="143" width="1" height="17" fill="#000"/>
<rect x="32.5" y="145.5" width="4" height="13" fill="#fff" stroke="#000" stroke-width="1"/>
<rect x="42" y="144" width="1" height="24" fill="#000"/>
<rect x="40" y="145" width="5" height="23" fill="#000"/>
<rect x="50" y="146" width="1" height="21" fill="#000"/>
<rect x="48.5" y="155.5" width="4" height="4" fill="#fff" stroke="#000" stroke-width="1"/>
<rect x="58" y="139" width="1" height="56" fill="#000"/>
<rect x="56" y="150" width="5" height="17" fill="#000"/>
<rect x="66" y="154" width="1" height="22" fill="#000"/>
<rect x="64.5" y="154.5" width="4" height="11" fill="#fff" stroke="#000" stroke-width="1"/>
<rect x="74" y="147" width="1" height="12" fill="#000"/>
<rect x="82" y="154" width="1" height="12" fill="#000"/>
<rect x="80" y="154" width="5" height="6" fill="#000"/>
<rect x="90" y="144" width="1" height="17" fill="#000"/>
<rect x="88.5" y="144.5" width="4" height="15" fill="#fff" stroke="#000" stroke-width="1"/>
<rect x="98" y="123" width="1" height="13" fill="#000"/>
<rect x="96.5" y="124.5" width="4" height="7" fill="#fff" stroke="#000" stroke-width="1"/>
<rect x="106" y="110" width="1" height="45" fill="#000"/>
<rect x="104" y="124" width="5" height="10" fill="#000"/>
<rect x="114" y="110" width="1" height="26" fill="#000"/>
<rect x="112.5" y="121.5" width="4" height="13" fill="#fff" stroke="#000" stroke-width="1"/>
<rect x="122" y="115" width="1" height="14" fill="#000"/>
<rect x="120.5" y="116.5" width="4" height="4" fill="#fff" stroke="#000" stroke-width="1"/>
<rect x="130" y="110" width="1" height="14" fill="#000"/>
<rect x="138" y="98" width="1" height="20" fill="#000"/>
<rect x="136.5" y="100.5" width="4" height="17" fill="#fff" stroke="#000" stroke-width="1"/>
<rect x="146" y="92" width="1" height="10" fill="#000"/>
<rect x="144.5" y="96.5" width="4" height="4" fill="#fff" stroke="#000" stroke-width="1"/>
<rect x="154" y="90" width="1" height="16" fill="#000"/>
<rect x="152" y="95" width="5" height="5" fill="#000"/>
<rect x="162" y="88" width="1" height="14" fill="#000"/>
<rect x="160.5" y="92.5" width="4" height="7" fill="#fff" stroke="#000" stroke-width="1"/>
<rect x="170" y="86" width="1" height="14" fill="#000"/>
<rect x="168" y="91" width="5" height="6" fill="#000"/>
<rect x="178" y="84" width="1" height="14" fill="#000"/>
<rect x="176.5" y="88.5" width="4" height="7" fill="#fff" stroke="#000" stroke-width="1"/>
<rect x="186" y="80" width="1" height="14" fill="#000"/>
<rect x="184.5" y="85.5" width="4" height="5" fill="#fff" stroke="#000" stroke-width="1"/>
<rect x="194" y="80" width="1" height="15" fill="#000"/>
<rect x="192" y="84" width="5" height="6" fill="#000"/>
<rect x="202" y="82" width="1" height="14" fill="#000"/>
<rect x="200.5" y="86.5" width="4" height="4" fill="#fff" stroke="#000" stroke-width="1"/>
<rect x="210" y="83" width="1" height="14" fill="#000"/>
<rect x="208" y="86" width="5" height="4" fill="#000"/>
<rect x="218" y="86" width="1" height="12" fill="#000"/>
<rect x="226" y="85" width="1" height="40" fill="#000"/>
<rect x="224" y="87" width="5" height="19" fill="#000"/>
<rect x="234" y="65" width="1" height="44" fill="#000"/>
<rect x="232.5" y="90.5" width="4" height="16" fill="#fff" stroke="#000" stroke-width="1"/>
<rect x="242" y="105" width="1" height="26" fill="#000"/>
<rect x="240" y="106" width="5" height="21" fill="#000"/>
<rect x="250" y="116" width="1" height="72" fill="#000"/>
<rect x="248" y="125" width="5" height="44" fill="#000"/>
<rect x="258" y="135" width="1" height="36" fill="#000"/>
<rect x="256.5" y="139.5" width="4" height="30" fill="#fff" stroke="#000" stroke-width="1"/>
<rect x="266" y="114" width="1" height="29" fill="#000"/>
<rect x="264.5" y="133.5" width="4" height="6" fill="#fff" stroke="#000" stroke-width="1"/>
<rect x="274" y="126" width="1" height="37" fill="#000"/>
<rect x="272" y="132" width="5" height="3" fill="#000"/>
<rect x="282" y="113" width="1" height="23" fill="#000"/>
<rect x="280.5" y="118.5" width="4" height="15" fill="#fff" stroke="#000" stroke-width="1"/>
<rect x="290" y="106" width="1" height="23" fill="#000"/>
<rect x="288" y="110" width="5" height="12" fill="#000"/>
<rect x="298" y="120" width="1" height="32" fill="#000"/>
<rect x="296" y="121" width="5" height="31" fill="#000"/>
<rect x="306" y="149" width="1" height="47" fill="#000"/>
<rect x="304" y="152" width="5" height="41" fill="#000"/>
<rect x="314" y="189" width="1" height="51" fill="#000"/>
<rect x="312" y="194" width="5" height="45" fill="#000"/>
<rect x="322" y="221" width="1" height="30" fill="#000"/>
<rect x="320" y="238" width="5" height="11" fill="#000"/>
<rect x="330" y="238" width="1" height="23" fill="#000"/>
<rect x="328" y="249" width="5" height="7" fill="#000"/>
<rect x="338" y="259" width="1" height="28" fill="#000"/>
<rect x="336" y="259" width="5" height="19" fill="#000"/>
<rect x="346" y="281" width="1" height="144" fill="#000"/>
<rect x="344" y="285" width="5" height="98" fill="#000"/>
<rect x="354" y="278" width="1" height="130" fill="#000"/>
<rect x="352.5" y="283.5" width="4" height="100" fill="#fff" stroke="#000" stroke-width="1"/>
<rect x="362" y="258" width="1" height="47" fill="#000"/>
<rect x="360.5" y="261.5" width="4" height="20" fill="#fff" stroke="#000" stroke-width="1"/>
<rect x="370" y="217" width="1" height="54" fill="#000"/>
<rect x="368.5" y="225.5" width="4" height="37" fill="#fff" stroke="#000" stroke-width="1"/>
<rect x="378" y="209" width="1" height="19" fill="#000"/>
<rect x="376.5" y="210.5" width="4" height="15" fill="#fff" stroke="#000" stroke-width="1"/>
<rect x="386" y="198" width="1" height="43" fill="#000"/>
<rect x="384" y="206" width="5" height="21" fill="#000"/>
<rect x="394" y="185" width="1" height="72" fill="#000"/>
<rect x="392.5" y="196.5" width="4" height="26" fill="#fff" stroke="#000" stroke-width="1"/>
<rect x="402" y="180" width="1" height="56" fill="#000"/>
<rect x="400" y="197" width="5" height="21" fill="#000"/>
<rect x="410" y="196" width="1" height="29" fill="#000"/>
<rect x="408.5" y="203.5" width="4" height="14" fill="#fff" stroke="#000" stroke-width="1"/>
<rect x="418" y="189" width="1" height="18" fill="#000"/>
<rect x="416.5" y="194.5" width="4" height="9" fill="#fff" stroke="#000" stroke-width="1"/>
<rect x="426" y="177" width="1" height="21" fill="#000"/>
<rect x="424.5" y="187.5" width="4" height="6" fill="#fff" stroke="#000" stroke-width="1"/>
<rect x="434" y="166" width="1" height="20" fill="#000"/>
<rect x="432.5" y="178.5" width="4" height="6" fill="#fff" stroke="#000" stroke-width="1"/>
<rect x="442" y="156" width="1" height="33" fill="#000"/>
<rect x="450" y="175" width="1" height="40" fill="#000"/>
<rect x="448" y="179" width="5" height="19" fill="#000"/>
<rect x="458" y="197" width="1" height="22" fill="#000"/>
<rect x="456" y="198" width="5" height="8" fill="#000"/>
<rect x="466" y="202" width="1" height="16" fill="#000"/>
<rect x="464" y="204" width="5" height="3" fill="#000"/>
<rect x="474" y="200" width="1" height="22" fill="#000"/>
<rect x="482" y="194" width="1" height="17" fill="#000"/>
<rect x="480" y="196" width="5" height="3" fill="#000"/>
<rect x="490" y="171" width="1" height="40" fill="#000"/>
<rect x="488.5" y="179.5" width="4" height="20" fill="#fff" stroke="#000" stroke-width="1"/>
<rect x="498" y="172" width="1" height="24" fill="#000"/>
<rect x="496.5" y="175.5" width="4" height="4" fill="#fff" stroke="#000" stroke-width="1"/>
<rect x="506" y="164" width="1" height="21" fill="#000"/>
<rect x="504.5" y="169.5" width="4" height="7" fill="#fff" stroke="#000" stroke-width="1"/>
<rect x="514" y="151" width="1" height="23" fill="#000"/>
<rect x="512.5" y="153.5" width="4" height="15" fill="#fff" stroke="#000" stroke-width="1"/>
<rect x="522" y="125" width="1" height="35" fill="#000"/>
<rect x="520.5" y="140.5" width="4" height="14" fill="#fff" stroke="#000" stroke-width="1"/>
<rect x="530" y="134" width="1" height="14" fill="#000"/>
<rect x="528.5" y="136.5" width="4" height="4" fill="#fff" stroke="#000" stroke-width="1"/>
<rect x="538" y="123" width="1" height="37" fill="#000"/>
<rect x="536" y="132" width="5" height="6" fill="#000"/>
<rect x="546" y="134" width="1" height="25" fill="#000"/>
<rect x="544" y="136" width="5" height="16" fill="#000"/>
<rect x="554" y="145" width="1" height="12" fill="#000"/>
<rect x="552.5" y="147.5" width="4" height="3" fill="#fff" stroke="#000" stroke-width="1"/>
<rect x="562" y="140" width="1" height="14" fill="#000"/>
<rect x="570" y="143" width="1" height="8" fill="#000"/>
<rect x="578" y="133" width="1" height="16" fill="#000"/>
<rect x="576.5" y="135.5" width="4" height="7" fill="#fff" stroke="#000" stroke-width="1"/>
<rect x="586" y="131" width="1" height="29" fill="#000"/>
<rect x="584" y="135" width="5" height="17" fill="#000"/>
<rect x="594" y="146" width="1" height="21" fill="#000"/>
<rect x="592" y="150" width="5" height="10" fill="#000"/>
<rect x="602" y="146" width="1" height="23" fill="#000"/>
<rect x="600" y="159" width="5" height="4" fill="#000"/>
<rect x="610" y="161" width="1" height="17" fill="#000"/>
<rect x="608" y="162" width="5" height="4" fill="#000"/>
<rect x="618" y="163" width="1" height="12" fill="#000"/>
<rect x="616" y="164" width="5" height="6" fill="#000"/>
<rect x="626" y="169" width="1" height="11" fill="#000"/>
<rect x="634" y="165" width="1" height="48" fill="#000"/>
<rect x="632" y="171" width="5" height="35" fill="#000"/>
<rect x="642" y="174" width="1" height="32" fill="#000"/>
<rect x="640.5" y="183.5" width="4" height="21" fill="#fff" stroke="#000" stroke-width="1"/>
<rect x="650" y="171" width="1" height="18" fill="#000"/>
<rect x="648.5" y="173.5" width="4" height="9" fill="#fff" stroke="#000" stroke-width="1"/>
<rect x="658" y="173" width="1" height="16" fill="#000"/>
<rect x="656" y="173" width="5" height="14" fill="#000"/>
<rect x="666" y="176" width="1" height="14" fill="#000"/>
<rect x="664.5" y="181.5" width="4" height="5" fill="#fff" stroke="#000" stroke-width="1"/>
<rect x="674" y="173" width="1" height="17" fill="#000"/>
<rect x="672.5" y="175.5" width="4" height="10" fill="#fff" stroke="#000" stroke-width="1"/>
<rect x="682" y="149" width="1" height="53" fill="#000"/>
<rect x="680" y="176" width="5" height="15" fill="#000"/>
<rect x="690" y="184" width="1" height="67" fill="#000"/>
<rect x="688" y="191" width="5" height="38" fill="#000"/>
<rect x="698" y="205" width="1" height="28" fill="#000"/>
<rect x="696.5" y="211.5" width="4" height="17" fill="#fff" stroke="#000" stroke-width="1"/>
<rect x="706" y="207" width="1" height="15" fill="#000"/>
<rect x="704" y="212" width="5" height="7" fill="#000"/>
<rect x="714" y="194" width="1" height="26" fill="#000"/>
<rect x="712.5" y="198.5" width="4" height="19" fill="#fff" stroke="#000" stroke-width="1"/>
<rect x="722" y="179" width="1" height="18" fill="#000"/>
<rect x="720" y="180" width="5" height="8" fill="#000"/>
<rect x="730" y="185" width="1" height="56" fill="#000"/>
<rect x="728" y="186" width="5" height="37" fill="#000"/>
<rect x="738" y="196" width="1" height="46" fill="#000"/>
<rect x="736" y="221" width="5" height="18" fill="#000"/>
<rect x="746" y="203" width="1" height="41" fill="#000"/>
<rect x="744.5" y="209.5" width="4" height="27" fill="#fff" stroke="#000" stroke-width="1"/>
<rect x="754" y="203" width="1" height="23" fill="#000"/>
<rect x="752.5" y="205.5" width="4" height="5" fill="#fff" stroke="#000" stroke-width="1"/>
<rect x="762" y="194" width="1" height="13" fill="#000"/>
<rect x="760.5" y="202.5" width="4" height="2" fill="#fff" stroke="#000" stroke-width="1"/>
<rect x="770" y="198" width="1" height="19" fill="#000"/>
<rect x="768" y="198" width="5" height="17" fill="#000"/>
<rect x="778" y="185" width="1" height="35" fill="#000"/>
<rect x="776.5" y="198.5" width="4" height="17" fill="#fff" stroke="#000" stroke-width="1"/>
<rect x="786" y="191" width="1" height="19" fill="#000"/>
<rect x="784" y="197" width="5" height="5" fill="#000"/>
<rect x="794" y="186" width="1" height="20" fill="#000"/>
<rect x="792" y="200" width="5" height="3" fill="#000"/>
<rect x="802" y="195" width="1" height="12" fill="#000"/>
<rect x="810" y="196" width="1" height="8" fill="#000"/>
<rect x="808" y="201" width="5" height="3" fill="#000"/>
<rect x="818" y="200" width="1" height="17" fill="#000"/>
<rect x="816" y="203" width="5" height="9" fill="#000"/>
<rect x="826" y="210" width="1" height="34" fill="#000"/>
<rect x="824" y="213" width="5" height="23" fill="#000"/>
<rect x="834" y="229" width="1" height="31" fill="#000"/>
<rect x="842" y="224" width="1" height="14" fill="#000"/>
<rect x="840.5" y="226.5" width="4" height="9" fill="#fff" stroke="#000" stroke-width="1"/>
<rect x="850" y="225" width="1" height="7" fill="#000"/>
<rect x="858" y="224" width="1" height="7" fill="#000"/>
<rect x="856.5" y="225.5" width="4" height="4" fill="#fff" stroke="#000" stroke-width="1"/>
<rect x="866" y="211" width="1" height="18" fill="#000"/>
<rect x="864.5" y="218.5" width="4" height="3" fill="#fff" stroke="#000" stroke-width="1"/>
<rect x="874" y="205" width="1" height="38" fill="#000"/>
<rect x="872.5" y="218.5" width="4" height="3" fill="#fff" stroke="#000" stroke-width="1"/>
<rect x="882" y="214" width="1" height="36" fill="#000"/>
<rect x="880" y="218" width="5" height="28" fill="#000"/>
<rect x="890" y="233" width="1" height="66" fill="#000"/>
<rect x="888" y="246" width="5" height="50" fill="#000"/>
<rect x="898" y="279" width="1" height="32" fill="#000"/>
<rect x="896.5" y="284.5" width="4" height="12" fill="#fff" stroke="#000" stroke-width="1"/>
<rect x="906" y="268" width="1" height="24" fill="#000"/>
<rect x="904" y="283" width="5" height="8" fill="#000"/>
<rect x="914" y="294" width="1" height="35" fill="#000"/>
<rect x="912" y="299" width="5" height="19" fill="#000"/>
<rect x="922" y="274" width="1" height="65" fill="#000"/>
<rect x="920.5" y="291.5" width="4" height="24" fill="#fff" stroke="#000" stroke-width="1"/>
<rect x="930" y="261" width="1" height="54" fill="#000"/>
<rect x="928.5" y="274.5" width="4" height="18" fill="#fff" stroke="#000" stroke-width="1"/>
<rect x="938" y="264" width="1" height="39" fill="#000"/>
<rect x="936" y="274" width="5" height="20" fill="#000"/>
<rect x="946" y="270" width="1" height="26" fill="#000"/>
<rect x="944.5" y="289.5" width="4" height="4" fill="#fff" stroke="#000" stroke-width="1"/>
<rect x="954" y="281" width="1" height="15" fill="#000"/>
<rect x="962" y="295" width="1" height="13" fill="#000"/>
<rect x="960.5" y="299.5" width="4" height="2" fill="#fff" stroke="#000" stroke-width="1"/>
<rect x="970" y="286" width="1" height="59" fill="#000"/>
<rect x="968" y="300" width="5" height="32" fill="#000"/>
<rect x="978" y="322" width="1" height="135" fill="#000"/>
<rect x="976" y="332" width="5" height="114" fill="#000"/>
<rect x="986" y="429" width="1" height="44" fill="#000"/>
<rect x="994" y="395" width="1" height="59" fill="#000"/>
<rect x="992.5" y="421.5" width="4" height="26" fill="#fff" stroke="#000" stroke-width="1"/>
<rect x="1002" y="413" width="1" height="29" fill="#000"/>
<rect x="1000.5" y="419.5" width="4" height="2" fill="#fff" stroke="#000" stroke-width="1"/>
<rect x="1010" y="411" width="1" height="33" fill="#000"/>
<rect x="1008" y="414" width="5" height="29" fill="#000"/>
<rect x="1018" y="395" width="1" height="100" fill="#000"/>
<rect x="1016" y="441" width="5" height="22" fill="#000"/>
<rect x="1026" y="281" width="1" height="182" fill="#000"/>
<rect x="1024.5" y="290.5" width="4" height="172" fill="#fff" stroke="#000" stroke-width="1"/>
<rect x="1034" y="260" width="1" height="34" fill="#000"/>
<rect x="1032.5" y="261.5" width="4" height="28" fill="#fff" stroke="#000" stroke-width="1"/>
<rect x="1042" y="244" width="1" height="23" fill="#000"/>
<rect x="1040.5" y="245.5" width="4" height="16" fill="#fff" stroke="#000" stroke-width="1"/>
<rect x="1050" y="242" width="1" height="12" fill="#000"/>
<rect x="1048" y="244" width="5" height="5" fill="#000"/>
<rect x="1058" y="248" width="1" height="20" fill="#000"/>
<rect x="1056.5" y="255.5" width="4" height="12" fill="#fff" stroke="#000" stroke-width="1"/>
<rect x="1066" y="237" width="1" height="32" fill="#000"/>
<rect x="1064.5" y="245.5" width="4" height="3" fill="#fff" stroke="#000" stroke-width="1"/>
<rect x="1074" y="242" width="1" height="39" fill="#000"/>
<rect x="1072" y="246" width="5" height="26" fill="#000"/>
<rect x="1082" y="225" width="1" height="51" fill="#000"/>
<rect x="1080.5" y="233.5" width="4" height="38" fill="#fff" stroke="#000" stroke-width="1"/>
<rect x="1090" y="225" width="1" height="12" fill="#000"/>
<rect x="1088.5" y="228.5" width="4" height="6" fill="#fff" stroke="#000" stroke-width="1"/>
<rect x="1098" y="215" width="1" height="14" fill="#000"/>
<rect x="1096.5" y="221.5" width="4" height="6" fill="#fff" stroke="#000" stroke-width="1"/>
<rect x="1106" y="207" width="1" height="18" fill="#000"/>
<rect x="1104.5" y="214.5" width="4" height="8" fill="#fff" stroke="#000" stroke-width="1"/>
<rect x="1114" y="182" width="1" height="33" fill="#000"/>
<rect x="1112.5" y="206.5" width="4" height="8" fill="#fff" stroke="#000" stroke-width="1"/>
<rect x="1122" y="202" width="1" height="26" fill="#000"/>
<rect x="1120" y="206" width="5" height="17" fill="#000"/>
<rect x="1130" y="216" width="1" height="41" fill="#000"/>
<rect x="1128" y="221" width="5" height="30" fill="#000"/>
<rect x="1138" y="234" width="1" height="27" fill="#000"/>
<rect x="1136" y="250" width="5" height="5" fill="#000"/>
<rect x="1146" y="244" width="1" height="13" fill="#000"/>
<rect x="1154" y="247" width="1" height="18" fill="#000"/>
<rect x="1152" y="253" width="5" height="5" fill="#000"/>
<rect x="1162" y="217" width="1" height="50" fill="#000"/>
<rect x="1160.5" y="228.5" width="4" height="30" fill="#fff" stroke="#000" stroke-width="1"/>
<rect x="1170" y="227" width="1" height="27" fill="#000"/>
<rect x="1168" y="229" width="5" height="6" fill="#000"/>
<rect x="1178" y="218" width="1" height="19" fill="#000"/>
<rect x="1176.5" y="229.5" width="4" height="6" fill="#fff" stroke="#000" stroke-width="1"/>
<rect x="1186" y="222" width="1" height="32" fill="#000"/>
<rect x="1184" y="229" width="5" height="13" fill="#000"/>
<rect x="1194" y="237" width="1" height="20" fill="#000"/>
<rect x="1192" y="239" width="5" height="10" fill="#000"/>
<rect x="1202" y="248" width="1" height="13" fill="#000"/>
<rect x="1200.5" y="250.5" width="4" height="5" fill="#fff" stroke="#000" stroke-width="1"/>
<rect x="1210" y="244" width="1" height="66" fill="#000"/>
<rect x="1208" y="251" width="5" height="42" fill="#000"/>
<rect x="1218" y="293" width="1" height="53" fill="#000"/>
<rect x="1216" y="293" width="5" height="40" fill="#000"/>
<rect x="1226" y="318" width="1" height="24" fill="#000"/>
<rect x="1224.5" y="329.5" width="4" height="4" fill="#fff" stroke="#000" stroke-width="1"/>
<rect x="1234" y="318" width="1" height="48" fill="#000"/>
<rect x="1232" y="330" width="5" height="23" fill="#000"/>
<rect x="1242" y="332" width="1" height="29" fill="#000"/>
<rect x="1240" y="353" width="5" height="7" fill="#000"/>
<rect x="1250" y="365" width="1" height="18" fill="#000"/>
<rect x="1248" y="366" width="5" height="8" fill="#000"/>
<rect x="1258" y="340" width="1" height="62" fill="#000"/>
<rect x="1256.5" y="355.5" width="4" height="20" fill="#fff" stroke="#000" stroke-width="1"/>
<rect x="1266" y="322" width="1" height="71" fill="#000"/>
<rect x="1264.5" y="349.5" width="4" height="5" fill="#fff" stroke="#000" stroke-width="1"/>
<rect x="1274" y="341" width="1" height="52" fill="#000"/>
<rect x="1272" y="348" width="5" height="32" fill="#000"/>
<rect x="1282" y="361" width="1" height="46" fill="#000"/>
<rect x="1280" y="378" width="5" height="26" fill="#000"/>
<rect x="1290" y="394" width="1" height="29" fill="#000"/>
<rect x="1288" y="401" width="5" height="22" fill="#000"/>
<rect x="1298" y="442" width="1" height="26" fill="#000"/>
<rect x="1296" y="442" width="5" height="5" fill="#000"/>
<rect x="1306" y="411" width="1" height="68" fill="#000"/>
<rect x="1304.5" y="445.5" width="4" height="2" fill="#fff" stroke="#000" stroke-width="1"/>
<rect x="1314" y="437" width="1" height="45" fill="#000"/>
<rect x="1312" y="447" width="5" height="22" fill="#000"/>
<rect x="1322" y="464" width="1" height="82" fill="#000"/>
<rect x="1320" y="467" width="5" height="65" fill="#000"/>
<rect x="1330" y="508" width="1" height="57" fill="#000"/>
<rect x="1328" y="531" width="5" height="30" fill="#000"/>
<rect x="1338" y="510" width="1" height="58" fill="#000"/>
<rect x="1336.5" y="518.5" width="4" height="44" fill="#fff" stroke="#000" stroke-width="1"/>
<rect x="1346" y="500" width="1" height="20" fill="#000"/>
<rect x="1344.5" y="501.5" width="4" height="15" fill="#fff" stroke="#000" stroke-width="1"/>
<rect x="1354" y="450" width="1" height="63" fill="#000"/>
<rect x="1352.5" y="491.5" width="4" height="12" fill="#fff" stroke="#000" stroke-width="1"/>
<rect x="1362" y="454" width="1" height="47" fill="#000"/>
<rect x="1370" y="437" width="1" height="74" fill="#000"/>
<rect x="1368.5" y="437.5" width="4" height="55" fill="#fff" stroke="#000" stroke-width="1"/>
<rect x="1378" y="419" width="1" height="26" fill="#000"/>
<rect x="1376.5" y="421.5" width="4" height="16" fill="#fff" stroke="#000" stroke-width="1"/>
<rect x="1386" y="405" width="1" height="20" fill="#000"/>
<rect x="1384" y="421" width="5" height="3" fill="#000"/>
</g>
<g clip-path="url(#cm)"><rect x="72" y="153.75" width="5" height="1.5" fill="#000"/><rect x="128" y="115.75" width="5" height="1.5" fill="#000"/><rect x="218" y="87.75" width="3" height="1.5" fill="#000"/><rect x="440" y="179.75" width="5" height="1.5" fill="#000"/><rect x="472" y="204.75" width="5" height="1.5" fill="#000"/><rect x="560" y="146.75" width="5" height="1.5" fill="#000"/><rect x="568" y="146.75" width="5" height="1.5" fill="#000"/><rect x="624" y="172.75" width="5" height="1.5" fill="#000"/><rect x="800" y="201.75" width="5" height="1.5" fill="#000"/><rect x="832" y="233.75" width="5" height="1.5" fill="#000"/><rect x="848" y="227.75" width="5" height="1.5" fill="#000"/><rect x="952" y="287.75" width="5" height="1.5" fill="#000"/><rect x="984" y="446.75" width="5" height="1.5" fill="#000"/><rect x="1144" y="253.75" width="5" height="1.5" fill="#000"/><rect x="1360" y="491.75" width="5" height="1.5" fill="#000"/></g>
<rect x="1263" y="429" width="181" height="9" fill="#00ff00" shape-rendering="crispEdges"/>
<g shape-rendering="crispEdges">
<rect x="337" y="424" width="10" height="1" fill="#f00"/>
<rect x="275.5" y="415.5" width="61" height="19" fill="#fff" stroke="#f00" stroke-width="1"/>
</g>
<text class="lb" x="306.5" y="431.5" text-anchor="middle" textLength="57" lengthAdjust="spacingAndGlyphs">27703.0</text>
<g shape-rendering="crispEdges">
<rect x="1105" y="182" width="10" height="1" fill="#f00"/>
<rect x="1043.5" y="173.5" width="61" height="18" fill="#fff" stroke="#f00" stroke-width="1"/>
</g>
<text class="lb" x="1074.5" y="188.5" text-anchor="middle" textLength="57" lengthAdjust="spacingAndGlyphs">28831.4</text>
<g shape-rendering="crispEdges">
<rect x="1009" y="494" width="10" height="1" fill="#f00"/>
<rect x="947.5" y="485.5" width="61" height="18" fill="#fff" stroke="#f00" stroke-width="1"/>
</g>
<text class="lb" x="978.5" y="500.5" text-anchor="middle" textLength="57" lengthAdjust="spacingAndGlyphs">27378.0</text>
<g shape-rendering="crispEdges">
<rect x="1329" y="567" width="10" height="1" fill="#f00"/>
<rect x="1267.5" y="558.5" width="61" height="18" fill="#fff" stroke="#f00" stroke-width="1"/>
</g>
<text class="lb" x="1298.5" y="573.5" text-anchor="middle" textLength="57" lengthAdjust="spacingAndGlyphs">27037.9</text>
<g shape-rendering="crispEdges">
<rect x="1163.5" y="425.5" width="61" height="18" fill="#fff" stroke="#f00"/>
<rect x="1225.5" y="432.5" width="2" height="3" fill="#fff" stroke="#f00"/>
<rect x="1228" y="434" width="8" height="1" fill="#f00"/>
</g>
<text class="lb" x="1194" y="440.5" text-anchor="middle" textLength="57" lengthAdjust="spacingAndGlyphs">27657.1</text>
<g shape-rendering="crispEdges">
<rect x="1491.5" y="423.5" width="110" height="24" fill="none" stroke="#222"/>
<rect x="1543.5" y="421.5" width="3" height="2" fill="#fff" stroke="#32cd32"/>
</g>
<text x="1545.8" y="442" text-anchor="middle" textLength="106" lengthAdjust="spacing" style="font-size:21px;font-weight:300;fill:#00ff00">多空转折点</text>
<rect x="1491" y="434" width="111" height="1" fill="#32cd32" shape-rendering="crispEdges"/>
<g shape-rendering="crispEdges">
<rect x="1653" y="48" width="2" height="1" fill="#000"/>
<rect x="1653" y="81" width="2" height="1" fill="#000"/>
<rect x="1653" y="114" width="2" height="1" fill="#000"/>
<rect x="1653" y="147" width="2" height="1" fill="#000"/>
<rect x="1653" y="180" width="2" height="1" fill="#000"/>
<rect x="1653" y="213" width="2" height="1" fill="#000"/>
<rect x="1653" y="246" width="2" height="1" fill="#000"/>
<rect x="1653" y="279" width="2" height="1" fill="#000"/>
<rect x="1653" y="312" width="2" height="1" fill="#000"/>
<rect x="1653" y="345" width="2" height="1" fill="#000"/>
<rect x="1653" y="378" width="2" height="1" fill="#000"/>
<rect x="1653" y="411" width="2" height="1" fill="#000"/>
<rect x="1653" y="444" width="2" height="1" fill="#000"/>
<rect x="1653" y="477" width="2" height="1" fill="#000"/>
<rect x="1653" y="510" width="2" height="1" fill="#000"/>
<rect x="1653" y="543" width="2" height="1" fill="#000"/>
<rect x="1653" y="576" width="2" height="1" fill="#000"/>
<rect x="1653" y="583" width="2" height="1" fill="#000"/>
<rect x="1653" y="630" width="2" height="1" fill="#000"/>
<rect x="1653" y="750" width="2" height="1" fill="#000"/>
<rect x="1653" y="755" width="2" height="1" fill="#000"/>
<rect x="1653" y="789" width="2" height="1" fill="#000"/>
<rect x="1653" y="840" width="2" height="1" fill="#000"/>
<rect x="1653" y="901" width="2" height="1" fill="#000"/>
<rect x="1653" y="926" width="2" height="1" fill="#000"/>
</g>
<text class="ax" x="1658" y="51.5">29457.0</text>
<text class="ax" x="1658" y="84.5">29304.0</text>
<text class="ax" x="1658" y="117.5">29146.5</text>
<text class="ax" x="1658" y="150.5">28993.5</text>
<text class="ax" x="1658" y="183.5">28840.0</text>
<text class="ax" x="1658" y="216.5">28687.0</text>
<text class="ax" x="1658" y="249.5">28534.5</text>
<text class="ax" x="1658" y="282.5">28377.0</text>
<text class="ax" x="1658" y="315.5">28224.0</text>
<text class="ax" x="1658" y="348.5">28071.0</text>
<text class="ax" x="1658" y="381.5">27918.0</text>
<text class="ax" x="1658" y="414.5">27765.0</text>
<text class="ax" x="1658" y="447.5">27607.5</text>
<text class="ax" x="1658" y="480.5">27454.5</text>
<text class="ax" x="1658" y="513.5">27301.5</text>
<text class="ax" x="1658" y="546.5">27148.5</text>
<text class="ax" x="1658" y="579.5">26995.5</text>
<rect x="1654" y="375" width="41" height="11" fill="#f00" shape-rendering="crispEdges"/>
<text class="ax" x="1658" y="384" style="fill:#fff;stroke:#fff">27903.8</text>
<rect x="1654" y="395" width="41" height="11" fill="#f00" shape-rendering="crispEdges"/>
<text class="ax" x="1658" y="404" style="fill:#fff;stroke:#fff">27810.7</text>
<rect x="1654" y="448" width="41" height="11" fill="#00f" shape-rendering="crispEdges"/>
<text class="ax" x="1658" y="457" style="fill:#fff;stroke:#fff">27564.0</text>
<rect x="1654" y="465" width="41" height="11" fill="#00f" shape-rendering="crispEdges"/>
<text class="ax" x="1658" y="474" style="fill:#fff;stroke:#fff">27484.8</text>
<rect x="1654" y="428" width="41" height="11" fill="#32cd32" shape-rendering="crispEdges"/>
<text class="ax" x="1658" y="437" style="fill:#fff;stroke:#fff">27657.1</text>
<rect x="1654" y="418" width="41" height="10" fill="#000" shape-rendering="crispEdges"/>
<text class="ax" x="1658" y="426" style="fill:#fff;stroke:#fff">27705.0</text>
<g shape-rendering="crispEdges">
<rect x="1647.5" y="379.5" width="4" height="4" fill="#fff" stroke="#f00"/>
<rect x="1647.5" y="399.5" width="4" height="4" fill="#fff" stroke="#f00"/>
<rect x="1647.5" y="432.5" width="4" height="4" fill="#fff" stroke="#32cd32"/>
<rect x="1647.5" y="452.5" width="4" height="4" fill="#fff" stroke="#00f"/>
<rect x="1647.5" y="469.5" width="4" height="4" fill="#fff" stroke="#00f"/>
</g>
<text class="ax" x="1656" y="591.3">124.58</text>
<text class="ax" x="1656" y="633.8">0.00</text>
<text class="ax" x="1656" y="748.3">-317.71</text>
<text class="ax" x="1656" y="763.8">100</text>
<text class="ax" x="1656" y="792.8">80</text>
<text class="ax" x="1656" y="843.8">50</text>
<text class="ax" x="1656" y="904.8">15</text>
<text class="ax" x="1656" y="923.8">0</text>
<g shape-rendering="crispEdges">
<rect x="2" y="630" width="1" height="18" fill="#c0c0c0"/>
<rect x="10" y="630" width="1" height="16" fill="#c0c0c0"/>
<rect x="18" y="630" width="1" height="14" fill="#c0c0c0"/>
<rect x="26" y="630" width="1" height="11" fill="#c0c0c0"/>
<rect x="34" y="630" width="1" height="7" fill="#c0c0c0"/>
<rect x="42" y="630" width="1" height="7" fill="#c0c0c0"/>
<rect x="50" y="630" width="1" height="5" fill="#c0c0c0"/>
<rect x="58" y="630" width="1" height="5" fill="#c0c0c0"/>
<rect x="66" y="630" width="1" height="3" fill="#c0c0c0"/>
<rect x="74" y="630" width="1" height="2" fill="#c0c0c0"/>
<rect x="82" y="630" width="1" height="1" fill="#c0c0c0"/>
<rect x="90" y="629" width="1" height="2" fill="#c0c0c0"/>
<rect x="98" y="624" width="1" height="7" fill="#c0c0c0"/>
<rect x="106" y="621" width="1" height="10" fill="#c0c0c0"/>
<rect x="114" y="618" width="1" height="13" fill="#c0c0c0"/>
<rect x="122" y="614" width="1" height="17" fill="#c0c0c0"/>
<rect x="130" y="612" width="1" height="19" fill="#c0c0c0"/>
<rect x="138" y="609" width="1" height="22" fill="#c0c0c0"/>
<rect x="146" y="604" width="1" height="27" fill="#c0c0c0"/>
<rect x="154" y="598" width="1" height="33" fill="#c0c0c0"/>
<rect x="162" y="594" width="1" height="37" fill="#c0c0c0"/>
<rect x="170" y="592" width="1" height="39" fill="#c0c0c0"/>
<rect x="178" y="590" width="1" height="41" fill="#c0c0c0"/>
<rect x="186" y="591" width="1" height="40" fill="#c0c0c0"/>
<rect x="194" y="592" width="1" height="39" fill="#c0c0c0"/>
<rect x="202" y="596" width="1" height="35" fill="#c0c0c0"/>
<rect x="210" y="596" width="1" height="35" fill="#c0c0c0"/>
<rect x="218" y="599" width="1" height="32" fill="#c0c0c0"/>
<rect x="226" y="602" width="1" height="29" fill="#c0c0c0"/>
<rect x="234" y="604" width="1" height="27" fill="#c0c0c0"/>
<rect x="242" y="610" width="1" height="21" fill="#c0c0c0"/>
<rect x="250" y="621" width="1" height="10" fill="#c0c0c0"/>
<rect x="258" y="626" width="1" height="5" fill="#c0c0c0"/>
<rect x="266" y="630" width="1" height="1" fill="#c0c0c0"/>
<rect x="274" y="630" width="1" height="1" fill="#c0c0c0"/>
<rect x="282" y="630" width="1" height="1" fill="#c0c0c0"/>
<rect x="290" y="630" width="1" height="1" fill="#c0c0c0"/>
<rect x="298" y="630" width="1" height="6" fill="#c0c0c0"/>
<rect x="306" y="630" width="1" height="16" fill="#c0c0c0"/>
<rect x="314" y="630" width="1" height="29" fill="#c0c0c0"/>
<rect x="322" y="630" width="1" height="41" fill="#c0c0c0"/>
<rect x="330" y="630" width="1" height="50" fill="#c0c0c0"/>
<rect x="338" y="630" width="1" height="60" fill="#c0c0c0"/>
<rect x="346" y="630" width="1" height="83" fill="#c0c0c0"/>
<rect x="354" y="630" width="1" height="85" fill="#c0c0c0"/>
<rect x="362" y="630" width="1" height="83" fill="#c0c0c0"/>
<rect x="370" y="630" width="1" height="75" fill="#c0c0c0"/>
<rect x="378" y="630" width="1" height="65" fill="#c0c0c0"/>
<rect x="386" y="630" width="1" height="60" fill="#c0c0c0"/>
<rect x="394" y="630" width="1" height="51" fill="#c0c0c0"/>
<rect x="402" y="630" width="1" height="46" fill="#c0c0c0"/>
<rect x="410" y="630" width="1" height="40" fill="#c0c0c0"/>
<rect x="418" y="630" width="1" height="33" fill="#c0c0c0"/>
<rect x="426" y="630" width="1" height="27" fill="#c0c0c0"/>
<rect x="434" y="630" width="1" height="20" fill="#c0c0c0"/>
<rect x="442" y="630" width="1" height="15" fill="#c0c0c0"/>
<rect x="450" y="630" width="1" height="13" fill="#c0c0c0"/>
<rect x="458" y="630" width="1" height="13" fill="#c0c0c0"/>
<rect x="466" y="630" width="1" height="12" fill="#c0c0c0"/>
<rect x="474" y="630" width="1" height="12" fill="#c0c0c0"/>
<rect x="482" y="630" width="1" height="10" fill="#c0c0c0"/>
<rect x="490" y="630" width="1" height="5" fill="#c0c0c0"/>
<rect x="498" y="630" width="1" height="3" fill="#c0c0c0"/>
<rect x="506" y="630" width="1" height="1" fill="#c0c0c0"/>
<rect x="514" y="623" width="1" height="8" fill="#c0c0c0"/>
<rect x="522" y="618" width="1" height="13" fill="#c0c0c0"/>
<rect x="530" y="613" width="1" height="18" fill="#c0c0c0"/>
<rect x="538" y="609" width="1" height="22" fill="#c0c0c0"/>
<rect x="546" y="608" width="1" height="23" fill="#c0c0c0"/>
<rect x="554" y="608" width="1" height="23" fill="#c0c0c0"/>
<rect x="562" y="607" width="1" height="24" fill="#c0c0c0"/>
<rect x="570" y="607" width="1" height="24" fill="#c0c0c0"/>
<rect x="578" y="606" width="1" height="25" fill="#c0c0c0"/>
<rect x="586" y="608" width="1" height="23" fill="#c0c0c0"/>
<rect x="594" y="610" width="1" height="21" fill="#c0c0c0"/>
<rect x="602" y="613" width="1" height="18" fill="#c0c0c0"/>
<rect x="610" y="615" width="1" height="16" fill="#c0c0c0"/>
<rect x="618" y="618" width="1" height="13" fill="#c0c0c0"/>
<rect x="626" y="621" width="1" height="10" fill="#c0c0c0"/>
<rect x="634" y="628" width="1" height="3" fill="#c0c0c0"/>
<rect x="642" y="630" width="1" height="1" fill="#c0c0c0"/>
<rect x="650" y="630" width="1" height="1" fill="#c0c0c0"/>
<rect x="658" y="630" width="1" height="3" fill="#c0c0c0"/>
<rect x="666" y="630" width="1" height="4" fill="#c0c0c0"/>
<rect x="674" y="630" width="1" height="4" fill="#c0c0c0"/>
<rect x="682" y="630" width="1" height="6" fill="#c0c0c0"/>
<rect x="690" y="630" width="1" height="13" fill="#c0c0c0"/>
<rect x="698" y="630" width="1" height="16" fill="#c0c0c0"/>
<rect x="706" y="630" width="1" height="19" fill="#c0c0c0"/>
<rect x="714" y="630" width="1" height="18" fill="#c0c0c0"/>
<rect x="722" y="630" width="1" height="15" fill="#c0c0c0"/>
<rect x="730" y="630" width="1" height="19" fill="#c0c0c0"/>
<rect x="738" y="630" width="1" height="23" fill="#c0c0c0"/>
<rect x="746" y="630" width="1" height="22" fill="#c0c0c0"/>
<rect x="754" y="630" width="1" height="21" fill="#c0c0c0"/>
<rect x="762" y="630" width="1" height="20" fill="#c0c0c0"/>
<rect x="770" y="630" width="1" height="20" fill="#c0c0c0"/>
<rect x="778" y="630" width="1" height="17" fill="#c0c0c0"/>
<rect x="786" y="630" width="1" height="15" fill="#c0c0c0"/>
<rect x="794" y="630" width="1" height="14" fill="#c0c0c0"/>
<rect x="802" y="630" width="1" height="12" fill="#c0c0c0"/>
<rect x="810" y="630" width="1" height="11" fill="#c0c0c0"/>
<rect x="818" y="630" width="1" height="12" fill="#c0c0c0"/>
<rect x="826" y="630" width="1" height="15" fill="#c0c0c0"/>
<rect x="834" y="630" width="1" height="17" fill="#c0c0c0"/>
<rect x="842" y="630" width="1" height="18" fill="#c0c0c0"/>
<rect x="850" y="630" width="1" height="19" fill="#c0c0c0"/>
<rect x="858" y="630" width="1" height="19" fill="#c0c0c0"/>
<rect x="866" y="630" width="1" height="17" fill="#c0c0c0"/>
<rect x="874" y="630" width="1" height="16" fill="#c0c0c0"/>
<rect x="882" y="630" width="1" height="17" fill="#c0c0c0"/>
<rect x="890" y="630" width="1" height="28" fill="#c0c0c0"/>
<rect x="898" y="630" width="1" height="33" fill="#c0c0c0"/>
<rect x="906" y="630" width="1" height="37" fill="#c0c0c0"/>
<rect x="914" y="630" width="1" height="44" fill="#c0c0c0"/>
<rect x="922" y="630" width="1" height="46" fill="#c0c0c0"/>
<rect x="930" y="630" width="1" height="44" fill="#c0c0c0"/>
<rect x="938" y="630" width="1" height="44" fill="#c0c0c0"/>
<rect x="946" y="630" width="1" height="44" fill="#c0c0c0"/>
<rect x="954" y="630" width="1" height="43" fill="#c0c0c0"/>
<rect x="962" y="630" width="1" height="44" fill="#c0c0c0"/>
<rect x="970" y="630" width="1" height="47" fill="#c0c0c0"/>
<rect x="978" y="630" width="1" height="66" fill="#c0c0c0"/>
<rect x="986" y="630" width="1" height="81" fill="#c0c0c0"/>
<rect x="994" y="630" width="1" height="87" fill="#c0c0c0"/>
<rect x="1002" y="630" width="1" height="91" fill="#c0c0c0"/>
<rect x="1010" y="630" width="1" height="96" fill="#c0c0c0"/>
<rect x="1018" y="630" width="1" height="102" fill="#c0c0c0"/>
<rect x="1026" y="630" width="1" height="82" fill="#c0c0c0"/>
<rect x="1034" y="630" width="1" height="60" fill="#c0c0c0"/>
<rect x="1042" y="630" width="1" height="41" fill="#c0c0c0"/>
<rect x="1050" y="630" width="1" height="25" fill="#c0c0c0"/>
<rect x="1058" y="630" width="1" height="14" fill="#c0c0c0"/>
<rect x="1066" y="630" width="1" height="3" fill="#c0c0c0"/>
<rect x="1074" y="630" width="1" height="1" fill="#c0c0c0"/>
<rect x="1082" y="620" width="1" height="11" fill="#c0c0c0"/>
<rect x="1090" y="612" width="1" height="19" fill="#c0c0c0"/>
<rect x="1098" y="606" width="1" height="25" fill="#c0c0c0"/>
<rect x="1106" y="600" width="1" height="31" fill="#c0c0c0"/>
<rect x="1114" y="594" width="1" height="37" fill="#c0c0c0"/>
<rect x="1122" y="593" width="1" height="38" fill="#c0c0c0"/>
<rect x="1130" y="596" width="1" height="35" fill="#c0c0c0"/>
<rect x="1138" y="599" width="1" height="32" fill="#c0c0c0"/>
<rect x="1146" y="602" width="1" height="29" fill="#c0c0c0"/>
<rect x="1154" y="604" width="1" height="27" fill="#c0c0c0"/>
<rect x="1162" y="604" width="1" height="27" fill="#c0c0c0"/>
<rect x="1170" y="604" width="1" height="27" fill="#c0c0c0"/>
<rect x="1178" y="604" width="1" height="27" fill="#c0c0c0"/>
<rect x="1186" y="605" width="1" height="26" fill="#c0c0c0"/>
<rect x="1194" y="608" width="1" height="23" fill="#c0c0c0"/>
<rect x="1202" y="611" width="1" height="20" fill="#c0c0c0"/>
<rect x="1210" y="617" width="1" height="14" fill="#c0c0c0"/>
<rect x="1218" y="628" width="1" height="3" fill="#c0c0c0"/>
<rect x="1226" y="630" width="1" height="10" fill="#c0c0c0"/>
<rect x="1234" y="630" width="1" height="21" fill="#c0c0c0"/>
<rect x="1242" y="630" width="1" height="29" fill="#c0c0c0"/>
<rect x="1250" y="630" width="1" height="38" fill="#c0c0c0"/>
<rect x="1258" y="630" width="1" height="42" fill="#c0c0c0"/>
<rect x="1266" y="630" width="1" height="44" fill="#c0c0c0"/>
<rect x="1274" y="630" width="1" height="47" fill="#c0c0c0"/>
<rect x="1282" y="630" width="1" height="54" fill="#c0c0c0"/>
<rect x="1290" y="630" width="1" height="62" fill="#c0c0c0"/>
<rect x="1298" y="630" width="1" height="71" fill="#c0c0c0"/>
<rect x="1306" y="630" width="1" height="77" fill="#c0c0c0"/>
<rect x="1314" y="630" width="1" height="83" fill="#c0c0c0"/>
<rect x="1322" y="630" width="1" height="96" fill="#c0c0c0"/>
<rect x="1330" y="630" width="1" height="107" fill="#c0c0c0"/>
<rect x="1338" y="630" width="1" height="116" fill="#c0c0c0"/>
<rect x="1346" y="630" width="1" height="112" fill="#c0c0c0"/>
<rect x="1354" y="630" width="1" height="105" fill="#c0c0c0"/>
<rect x="1362" y="630" width="1" height="99" fill="#c0c0c0"/>
<rect x="1370" y="630" width="1" height="87" fill="#c0c0c0"/>
<rect x="1378" y="630" width="1" height="80" fill="#c0c0c0"/>
<rect x="1386" y="630" width="1" height="70" fill="#c0c0c0"/>
<path fill="none" stroke="#f00" stroke-width="1" d="M216 594.5h3M222 594.5h3M228.5 594v1M204 595.5h3M210 595.5h3M229 595.5h2M234.5 595v1M200.5 596v1M235 596.5h2M198 597.5h2M240 597.5h2M192 598.5h3M242.5 598v1M246.5 599v1M1157.5 599v1M1161 599.5h3M1167 599.5h3M186 600.5h3M247 600.5h2M1149 600.5h3M1155 600.5h2M1173 600.5h3M1179 600.5h3M1185 600.5h2M1187.5 601v1M1191 601.5h3M180 602.5h3M252.5 602v1M1143 602.5h3M1197 602.5h3M253 603.5h2M1203.5 603v1M175 604.5h2M1138 604.5h2M1204 604.5h2M174.5 605v1M258.5 605v1M1137.5 605v1M259 606.5h2M1209 606.5h3M169 607.5h2M598 607.5h3M604 607.5h3M1133.5 607v1M168.5 608v1M264.5 608v1M586 608.5h3M592 608.5h3M610 608.5h3M616.5 608v1M1131 608.5h2M1215 608.5h2M265 609.5h2M582.5 609v1M617 609.5h2M622.5 609v1M1217.5 609v1M162 610.5h3M580 610.5h2M623 610.5h2M270.5 611v1M574 611.5h3M628 611.5h2M1126 611.5h2M1221 611.5h2M158.5 612v1M271 612.5h2M630.5 612v1M1125.5 612v1M1223.5 612v1M156 613.5h2M570.5 613v1M634 613.5h3M276.5 614v1M568 614.5h2M1227.5 614v1M152.5 615v1M277 615.5h2M640 615.5h3M1121.5 615v1M1228 615.5h2M150 616.5h2M562 616.5h3M1120.5 616v1M282.5 617v1M646 617.5h3M1119.5 617v1M146.5 618v1M283 618.5h2M556 618.5h3M1233 618.5h2M144 619.5h2M552.5 619v1M652 619.5h2M1235.5 619v1M288.5 620v1M550 620.5h2M654.5 620v1M1115.5 620v1M140.5 621v1M289 621.5h2M658 621.5h2M1114.5 621v1M138 622.5h2M546.5 622v1M660.5 622v1M1113.5 622v1M1239 622.5h2M132 623.5h3M294.5 623v1M544 623.5h2M664 623.5h2M1241.5 623v1M127 624.5h2M295 624.5h2M666.5 624v1M126.5 625v1M540.5 625v1M670 625.5h3M120 626.5h3M300 626.5h2M538 626.5h2M676.5 626v1M1110.5 626v1M1245.5 626v1M116.5 627v1M302.5 627v1M677 627.5h2M1109.5 627v1M1246 627.5h2M114 628.5h2M533 628.5h2M682 628.5h2M1108.5 628v1M109 629.5h2M306 629.5h2M532.5 629v1M684.5 629v1M108.5 630v1M308.5 630v1M688 630.5h2M102 631.5h3M527 631.5h2M690.5 631v1M1251.5 631v1M0 632.5h2M98.5 632v1M312 632.5h2M526.5 632v1M694 632.5h2M1105.5 632v1M1252.5 632v1M2.5 633v1M96 633.5h2M314.5 633v1M522.5 633v1M696.5 633v1M1104.5 633v1M1253.5 633v1M6.5 634v1M90 634.5h3M520 634.5h2M700 634.5h2M1103.5 634v1M7 635.5h2M84 635.5h3M702.5 635v1M78 636.5h3M318.5 636v1M515 636.5h2M706 636.5h3M12 637.5h3M73 637.5h2M319.5 637v1M514.5 637v1M1256.5 637v1M68.5 638v1M72.5 638v1M320.5 638v1M508 638.5h3M712 638.5h3M1100.5 638v1M1257.5 638v1M18 639.5h3M66 639.5h2M503 639.5h2M718 639.5h2M1099.5 639v1M1258.5 639v1M54 640.5h3M60 640.5h3M502.5 640v1M720.5 640v1M1098.5 640v1M24 641.5h3M30 641.5h3M36 641.5h3M42 641.5h3M48 641.5h3M324.5 641v1M496 641.5h3M724 641.5h3M325.5 642v1M730 642.5h2M326.5 643v1M490 643.5h3M732.5 643v1M1262.5 643v1M736 644.5h3M822.5 644v1M826 644.5h3M832 644.5h3M838 644.5h3M1095.5 644v2M1263.5 644v1M485 645.5h2M742 645.5h3M816.5 645v1M820 645.5h2M844 645.5h3M850 645.5h3M856 645.5h3M862 645.5h3M868.5 645v1M1264.5 645v1M330.5 646v1M484.5 646v1M748.5 646v1M810.5 646v1M814 646.5h2M869 646.5h2M874 646.5h3M880 646.5h2M1094.5 646v1M331 647.5h2M479 647.5h2M749 647.5h2M754 647.5h3M804.5 647v1M808 647.5h2M882.5 647v1M886 647.5h3M478.5 648v1M760 648.5h3M766 648.5h3M772 648.5h3M778 648.5h3M784 648.5h3M790 648.5h3M796 648.5h3M802 648.5h2M892 648.5h3M1268.5 648v1M898.5 649v1M1269.5 649v1M336.5 650v1M473 650.5h2M899 650.5h2M1091.5 650v1M1270.5 650v1M337.5 651v1M472.5 651v1M1090.5 651v1M338.5 652v1M904 652.5h3M1089.5 652v1M467 653.5h2M466.5 654v1M910 654.5h2M1274.5 654v1M912.5 655v1M1275.5 655v1M342.5 656v1M462.5 656v1M916.5 656v1M1087.5 656v2M1276.5 656v1M343.5 657v1M460 657.5h2M917 657.5h2M344.5 658v1M1086.5 658v1M922 659.5h2M1280.5 659v1M456.5 660v1M924.5 660v1M1281.5 660v1M454 661.5h2M928 661.5h2M1282.5 661v1M347.5 662v1M930.5 662v1M1084.5 662v2M348.5 663v1M934 663.5h3M349.5 664v1M450.5 664v1M1083.5 664v1M449.5 665v1M940 665.5h3M1286.5 665v1M448.5 666v1M1287.5 666v1M946 667.5h3M1288.5 667v1M353.5 668v1M952 668.5h2M1080.5 668v2M354.5 669v1M443 669.5h2M954.5 669v1M958 669.5h2M355.5 670v1M442.5 670v1M960.5 670v1M964.5 670v1M1079.5 670v1M1292.5 670v1M965 671.5h2M1293.5 671v1M1294.5 672v1M438.5 673v1M970 673.5h2M358.5 674v1M437.5 674v1M972.5 674v1M1076.5 674v2M359.5 675v1M436.5 675v1M976.5 675v1M1298.5 675v1M360.5 676v1M977 676.5h2M1075.5 676v1M1299 676.5h2M431 678.5h2M982 678.5h3M430.5 679v1M1304.5 679v1M364.5 680v1M988.5 680v1M1072.5 680v1M1305.5 680v1M365.5 681v1M989 681.5h2M1071.5 681v1M1306.5 681v1M366.5 682v1M426.5 682v1M1070.5 682v1M425.5 683v1M424.5 684v1M994.5 684v1M1310.5 684v1M370.5 685v1M995 685.5h2M1311.5 685v1M371.5 686v1M1067.5 686v1M1312.5 686v1M372.5 687v1M420.5 687v1M1066.5 687v1M418 688.5h2M1000.5 688v1M1065.5 688v1M1001.5 689v1M1316.5 689v1M376.5 690v1M1002.5 690v1M1317 690.5h2M377 691.5h2M414.5 691v1M413.5 692v1M1062.5 692v1M382.5 693v1M412.5 693v1M1006 693.5h2M1061.5 693v1M383 694.5h2M1008.5 694v1M1060.5 694v1M1322 694.5h2M407 695.5h2M1324.5 695v1M388 696.5h3M406.5 696v1M394 697.5h3M402.5 697v1M1012.5 697v1M1056.5 697v1M400 698.5h2M1013.5 698v1M1055.5 698v1M1014.5 699v1M1054.5 699v1M1328.5 699v1M1329.5 700v1M1018.5 701v1M1330.5 701v1M1019.5 702v1M1020.5 703v1M1050.5 703v1M1048 704.5h2M1024.5 705v1M1334.5 705v1M1025 706.5h2M1335.5 706v1M1030 707.5h3M1044.5 707v1M1336.5 707v1M1036 708.5h3M1042 708.5h2M1340.5 711v1M1341 712.5h2M1346.5 715v1M1347.5 716v1M1348.5 717v1M1352.5 720v1M1353 721.5h2M1358.5 724v1M1359 725.5h2M1364.5 728v1M1365 729.5h2M1370.5 729v1M1382 729.5h3M1371 730.5h2M1376 730.5h3"/>
</g>
<text class="ax" x="-1" y="593.5">MACD(12,26,9) -181.25 -258.51</text>
<g shape-rendering="crispEdges">
<line x1="1" y1="789.5" x2="1652" y2="789.5" stroke="#c0c0c0" stroke-width="1" stroke-dasharray="3 3"/>
<line x1="1" y1="840.5" x2="1652" y2="840.5" stroke="#c0c0c0" stroke-width="1" stroke-dasharray="3 3"/>
<line x1="1" y1="901.5" x2="1652" y2="901.5" stroke="#c0c0c0" stroke-width="1" stroke-dasharray="3 3"/>
<path fill="none" stroke="#1e90ff" stroke-width="1" d="M154.5 801v1M153.5 802v2M155.5 802v1M156.5 803v1M152.5 804v2M157 804.5h2M159.5 805v1M151.5 806v1M160.5 806v1M150.5 807v2M161.5 807v1M162.5 808v1M149.5 809v1M163.5 809v1M148.5 810v2M164.5 810v1M165.5 811v1M147.5 812v2M166.5 812v1M167.5 813v1M177 813.5h2M138 814.5h9M168.5 814v1M175 814.5h2M179.5 814v1M137.5 815v1M169.5 815v1M172 815.5h3M180.5 815v1M136.5 816v1M170 816.5h2M181 816.5h2M135.5 817v1M183.5 817v1M134.5 818v1M184.5 818v1M133.5 819v1M185.5 819v1M529 819.5h10M1113 819.5h2M132.5 820v1M186 820.5h2M525 820.5h4M539.5 820v1M578.5 820v1M1109 820.5h4M1115 820.5h2M121 821.5h6M131.5 821v1M188 821.5h2M522 821.5h3M540.5 821v1M577.5 821v1M579.5 821v2M1105 821.5h4M1117 821.5h2M119 822.5h2M127 822.5h4M190 822.5h2M520 822.5h2M541.5 822v1M575 822.5h2M1101 822.5h4M1119.5 822v1M98.5 823v1M116 823.5h3M192 823.5h2M518 823.5h2M542.5 823v2M574.5 823v1M580.5 823v1M1095 823.5h6M1120 823.5h2M97.5 824v1M99.5 824v1M114 824.5h2M194 824.5h3M209 824.5h10M516 824.5h2M573.5 824v1M581.5 824v2M1089 824.5h6M1122.5 824v1M96.5 825v1M100.5 825v1M113.5 825v1M197 825.5h4M205 825.5h4M219.5 825v2M514 825.5h2M543.5 825v1M571 825.5h2M1042 825.5h5M1085 825.5h4M1123.5 825v2M95.5 826v1M101 826.5h2M111 826.5h2M201 826.5h4M512 826.5h2M544.5 826v1M553 826.5h18M582.5 826v1M1040 826.5h2M1047 826.5h6M1065 826.5h2M1082 826.5h3M94.5 827v2M103.5 827v1M110.5 827v1M220.5 827v1M511.5 827v1M545.5 827v1M549 827.5h4M583.5 827v2M1038 827.5h2M1053 827.5h4M1061 827.5h4M1067.5 827v1M1081.5 827v1M1124.5 827v1M104.5 828v1M109.5 828v1M221.5 828v2M234.5 828v1M509 828.5h2M546 828.5h3M1036 828.5h2M1057 828.5h4M1068.5 828v1M1080.5 828v1M1125.5 828v1M1162 828.5h3M93.5 829v1M105.5 829v1M107 829.5h2M233 829.5h2M507 829.5h2M584.5 829v1M1034 829.5h2M1069 829.5h2M1079.5 829v1M1126.5 829v2M1161.5 829v1M1165 829.5h4M92.5 830v1M106.5 830v1M222.5 830v1M232.5 830v1M235.5 830v2M505 830.5h2M585.5 830v2M1032 830.5h2M1071.5 830v1M1077 830.5h2M1160.5 830v2M1169 830.5h11M91.5 831v1M223.5 831v2M231.5 831v1M503 831.5h2M1031.5 831v1M1072.5 831v1M1076.5 831v1M1127.5 831v1M1180 831.5h2M34.5 832v1M90.5 832v1M230.5 832v1M236.5 832v2M500 832.5h3M586 832.5h2M1029 832.5h2M1073.5 832v1M1075.5 832v1M1128.5 832v1M1159.5 832v1M1182 832.5h2M32 833.5h2M35.5 833v2M89.5 833v1M224.5 833v1M229.5 833v1M495 833.5h5M588 833.5h2M1027 833.5h2M1074.5 833v1M1129.5 833v2M1158.5 833v1M1184 833.5h2M31.5 834v1M88.5 834v1M225.5 834v2M228.5 834v1M237.5 834v3M490 834.5h5M590 834.5h2M1026.5 834v4M1157.5 834v1M1186 834.5h2M29 835.5h2M36.5 835v1M87.5 835v1M227.5 835v1M489.5 835v1M592 835.5h2M1130 835.5h5M1156.5 835v2M1188 835.5h3M27 836.5h2M37.5 836v1M86.5 836v2M226.5 836v1M433 836.5h10M488.5 836v1M594 836.5h3M1135 836.5h14M1191 836.5h2M26.5 837v1M38.5 837v2M238.5 837v2M429 837.5h4M443 837.5h2M487.5 837v1M597 837.5h4M1149 837.5h4M1155.5 837v1M1193 837.5h6M25.5 838v1M50 838.5h2M66 838.5h10M85.5 838v1M425 838.5h4M445.5 838v1M486.5 838v1M601 838.5h4M1025.5 838v7M1153 838.5h2M1199 838.5h4M23 839.5h2M39.5 839v1M48 839.5h2M52 839.5h2M64 839.5h2M76 839.5h3M84.5 839v1M239.5 839v3M421 839.5h4M446.5 839v1M485.5 839v1M605 839.5h4M1202.5 839v1M22.5 840v1M40.5 840v1M47.5 840v1M54 840.5h2M62 840.5h2M79 840.5h2M83.5 840v1M282 840.5h3M417 840.5h4M447 840.5h2M484.5 840v1M609 840.5h3M1203.5 840v2M10 841.5h3M21.5 841v1M41.5 841v2M45 841.5h2M56 841.5h2M60 841.5h2M81 841.5h2M281.5 841v1M285 841.5h4M394.5 841v1M415 841.5h2M449.5 841v1M483.5 841v1M612 841.5h3M10.5 842v1M13 842.5h4M19 842.5h2M43 842.5h2M58 842.5h2M240.5 842v2M280.5 842v1M289 842.5h2M393.5 842v1M395 842.5h2M412 842.5h3M450 842.5h3M481 842.5h2M615 842.5h2M650.5 842v1M674.5 842v1M722.5 842v1M778 842.5h3M1204.5 842v2M9.5 843v2M17 843.5h2M42.5 843v1M279.5 843v1M291.5 843v2M392.5 843v1M397 843.5h2M409 843.5h3M453 843.5h4M477 843.5h4M617 843.5h4M648 843.5h2M651 843.5h2M672 843.5h2M675.5 843v1M721.5 843v1M723.5 843v2M777.5 843v1M781 843.5h4M807 843.5h4M241.5 844v2M278.5 844v1M391.5 844v1M399.5 844v1M407 844.5h2M457 844.5h20M621 844.5h4M647.5 844v1M653.5 844v1M670 844.5h2M676.5 844v1M719 844.5h2M776.5 844v1M785 844.5h22M811 844.5h2M1205.5 844v2M1383 844.5h4M8.5 845v2M277.5 845v1M292.5 845v2M377 845.5h3M390.5 845v1M400 845.5h2M404 845.5h3M625 845.5h2M645 845.5h2M654.5 845v1M668 845.5h2M677.5 845v1M718.5 845v1M724.5 845v2M759 845.5h4M775.5 845v1M813 845.5h2M1024.5 845v6M1377 845.5h6M242.5 846v3M276.5 846v1M375 846.5h2M380 846.5h2M389.5 846v1M402 846.5h2M626.5 846v1M643 846.5h2M655 846.5h2M665 846.5h3M678.5 846v2M717.5 846v1M753 846.5h6M763 846.5h2M774.5 846v1M815.5 846v1M1206.5 846v2M1375 846.5h2M7.5 847v2M275.5 847v1M293.5 847v2M372 847.5h3M382 847.5h2M388.5 847v1M627.5 847v2M642.5 847v1M657.5 847v1M661 847.5h4M715 847.5h2M725.5 847v2M749 847.5h4M765 847.5h2M773.5 847v1M816 847.5h2M1372 847.5h3M265 848.5h10M370 848.5h2M384 848.5h2M387.5 848v1M641.5 848v2M658 848.5h3M679.5 848v1M714.5 848v1M746 848.5h3M767.5 848v1M772.5 848v1M818.5 848v1M866 848.5h9M1207.5 848v2M1370 848.5h2M6.5 849v3M243.5 849v2M263 849.5h2M294.5 849v1M369.5 849v1M386.5 849v1M628.5 849v2M680.5 849v1M713.5 849v2M726.5 849v1M745.5 849v2M768 849.5h2M771.5 849v1M819.5 849v2M864 849.5h2M874.5 849v1M1370.5 849v1M260 850.5h3M295.5 850v2M368.5 850v1M640.5 850v2M681.5 850v1M727.5 850v2M770.5 850v1M862 850.5h2M875.5 850v2M1208.5 850v2M1369.5 850v3M244.5 851v2M258 851.5h2M367.5 851v1M629.5 851v2M682.5 851v1M712.5 851v1M744.5 851v2M820.5 851v1M860 851.5h2M1023.5 851v7M5.5 852v2M257.5 852v2M296.5 852v2M366.5 852v2M639.5 852v2M683.5 852v2M711.5 852v2M728.5 852v2M821.5 852v2M857 852.5h3M876.5 852v2M1209.5 852v2M245.5 853v3M630.5 853v2M743.5 853v1M855 853.5h2M1368.5 853v2M4.5 854v2M256.5 854v2M297.5 854v2M365.5 854v1M638.5 854v2M684.5 854v2M710.5 854v1M729.5 854v2M742.5 854v2M822.5 854v1M842 854.5h5M852 854.5h3M877.5 854v2M1210.5 854v1M364.5 855v1M631.5 855v2M709.5 855v2M823.5 855v2M840 855.5h2M847 855.5h5M1211.5 855v2M1367.5 855v3M3.5 856v2M246.5 856v2M255.5 856v2M298.5 856v1M363.5 856v1M637.5 856v2M685.5 856v2M698 856.5h2M730.5 856v1M741.5 856v1M839.5 856v1M878.5 856v2M930.5 856v1M299.5 857v2M362.5 857v1M632.5 857v2M697.5 857v1M700 857.5h2M708.5 857v1M731 857.5h2M740.5 857v2M824.5 857v1M837 857.5h2M929.5 857v1M931 857.5h2M1212.5 857v1M2.5 858v2M247.5 858v3M254.5 858v2M361.5 858v1M636.5 858v2M686.5 858v2M696.5 858v2M702 858.5h2M707.5 858v2M733 858.5h2M825.5 858v2M835 858.5h2M879.5 858v2M928.5 858v2M933.5 858v1M1022.5 858v7M1213.5 858v1M1366.5 858v3M300.5 859v1M359 859.5h2M633.5 859v2M704 859.5h2M735.5 859v1M739.5 859v2M831 859.5h4M934.5 859v1M1214.5 859v2M253.5 860v2M301.5 860v2M358.5 860v1M635.5 860v1M687.5 860v2M695.5 860v1M706.5 860v1M736 860.5h2M826 860.5h5M880.5 860v2M927.5 860v1M935 860.5h2M945 860.5h11M248.5 861v2M357.5 861v1M634 861.5h2M694.5 861v1M738.5 861v1M926.5 861v1M937.5 861v1M941 861.5h4M956 861.5h3M1215.5 861v1M1365.5 861v3M252.5 862v2M302.5 862v1M355 862.5h2M634.5 862v1M688.5 862v2M693.5 862v1M881.5 862v2M925.5 862v1M938 862.5h3M959 862.5h2M1216.5 862v1M1266.5 862v1M249.5 863v2M303.5 863v2M354.5 863v3M692.5 863v2M924.5 863v2M961 863.5h2M1217.5 863v2M1264 863.5h2M1267.5 863v1M251.5 864v1M689.5 864v2M882.5 864v2M963.5 864v1M1223 864.5h4M1262 864.5h2M1268.5 864v1M1364.5 864v2M250 865.5h2M304.5 865v1M691.5 865v1M923.5 865v1M964.5 865v2M1021.5 865v7M1218 865.5h5M1227 865.5h2M1260 865.5h2M1269.5 865v1M250.5 866v1M305.5 866v2M353.5 866v4M690.5 866v1M883.5 866v2M922.5 866v1M1229.5 866v1M1258 866.5h2M1270.5 866v1M1363.5 866v3M921.5 867v2M965.5 867v1M1230.5 867v1M1257.5 867v1M1271.5 867v1M306.5 868v1M884.5 868v2M966.5 868v1M1231 868.5h2M1256.5 868v1M1272.5 868v1M307.5 869v1M920.5 869v2M967.5 869v1M1233.5 869v1M1255.5 869v1M1273.5 869v1M1354 869.5h5M1362.5 869v1M308.5 870v2M352.5 870v4M885.5 870v2M968.5 870v2M1234 870.5h5M1254.5 870v2M1274.5 870v1M1352 870.5h2M1359 870.5h4M919.5 871v2M1239 871.5h5M1275 871.5h2M1350 871.5h2M309.5 872v1M886.5 872v2M898 872.5h3M969.5 872v1M1020.5 872v6M1244 872.5h2M1253.5 872v1M1277.5 872v1M1348 872.5h2M310.5 873v1M897.5 873v1M901 873.5h4M918.5 873v2M970.5 873v2M1246 873.5h2M1252.5 873v1M1278.5 873v1M1346 873.5h2M311.5 874v1M351.5 874v5M887.5 874v2M896.5 874v1M905 874.5h2M1248 874.5h2M1251.5 874v1M1279 874.5h2M1345.5 874v1M312.5 875v2M895.5 875v1M907.5 875v1M917.5 875v2M971.5 875v2M1250.5 875v1M1281.5 875v1M1344.5 875v1M888.5 876v2M894.5 876v1M908.5 876v1M1282 876.5h2M1343.5 876v1M313.5 877v1M893.5 877v1M909 877.5h2M916.5 877v2M972.5 877v3M1284 877.5h2M1342.5 877v1M314 878.5h3M889.5 878v2M892.5 878v1M911.5 878v1M1019.5 878v7M1286 878.5h2M1341.5 878v1M317 879.5h4M350.5 879v4M891.5 879v1M912.5 879v1M915.5 879v2M1288 879.5h2M1340.5 879v1M321 880.5h6M890.5 880v1M913.5 880v1M973.5 880v3M1001 880.5h3M1290 880.5h2M1339.5 880v1M327 881.5h5M914.5 881v1M997 881.5h4M1004 881.5h2M1292 881.5h2M1338.5 881v2M332 882.5h2M994 882.5h3M1006 882.5h2M1294 882.5h2M334 883.5h2M349.5 883v5M974.5 883v2M993.5 883v2M1008 883.5h2M1296 883.5h2M1337.5 883v2M336 884.5h2M1010 884.5h2M1298 884.5h10M338.5 885v1M975.5 885v3M992.5 885v1M1012 885.5h2M1018.5 885v2M1308 885.5h2M1336.5 885v3M339.5 886v2M991.5 886v2M1014 886.5h2M1310 886.5h2M1016 887.5h3M1312 887.5h2M340.5 888v2M348.5 888v4M976.5 888v3M990.5 888v1M1018.5 888v1M1314.5 888v1M1335.5 888v2M989.5 889v2M1315.5 889v1M341.5 890v1M1316.5 890v1M1334.5 890v3M342.5 891v2M977.5 891v2M988.5 891v1M1317.5 891v1M347.5 892v4M987.5 892v2M1318.5 892v1M343.5 893v1M978.5 893v1M1319.5 893v1M1333.5 893v2M344.5 894v2M978 894.5h9M1320.5 894v1M1321.5 895v1M1332.5 895v3M345 896.5h2M1322.5 896v1M345 897.5h2M1323 897.5h2M346.5 898v1M1325 898.5h2M1331.5 898v2M1327.5 899v1M1328 900.5h3M1330.5 901v1"/>
</g>
<text class="ax" x="-1" y="765.5">RSI(14) 47.2874</text>
<line x1="1183" y1="221.5" x2="1338.69" y2="564.56" stroke="#f00" stroke-width="3.3"/>
<polygon fill="#f00" points="1342.2,572.3 1333.58,564.681 1342.14,560.796"/>
<line x1="1342" y1="572" x2="1390.7" y2="420.094" stroke="#f00" stroke-width="3.3"/>
<polygon fill="#f00" points="1393.3,412 1394.57,423.434 1385.62,420.564"/>
<line x1="1189" y1="594" x2="1338" y2="743.48" stroke="#f00" stroke-width="3.3"/>
<polygon fill="#f00" points="1344,749.5 1333.26,745.381 1339.92,738.745"/>
<line x1="1343.7" y1="749.2" x2="1417.22" y2="682.224" stroke="#f00" stroke-width="3.3"/>
<polygon fill="#f00" points="1423.5,676.5 1418.9,687.046 1412.57,680.097"/>
<line x1="1155" y1="837.5" x2="1323.57" y2="902.444" stroke="#f00" stroke-width="3.3"/>
<polygon fill="#f00" points="1331.5,905.5 1320.01,906.111 1323.39,897.339"/>
<line x1="1331" y1="905.3" x2="1386.28" y2="844.585" stroke="#f00" stroke-width="3.3"/>
<polygon fill="#f00" points="1392,838.3 1388.41,849.228 1381.46,842.9"/>
<text class="ax" x="9" y="37.8" style="font-size:9.25px" xml:space="preserve">JPN225-,H4  27712.5 27787.5 27700.0 27705.0</text>
<polygon points="0,32.5 4.5,37.5 0,37.5" fill="#000"/>
<g shape-rendering="crispEdges">
<rect x="58" y="928" width="1" height="3" fill="#000"/>
<rect x="122" y="928" width="1" height="3" fill="#000"/>
<rect x="186" y="928" width="1" height="3" fill="#000"/>
<rect x="250" y="928" width="1" height="3" fill="#000"/>
<rect x="314" y="928" width="1" height="3" fill="#000"/>
<rect x="378" y="928" width="1" height="3" fill="#000"/>
<rect x="442" y="928" width="1" height="3" fill="#000"/>
<rect x="506" y="928" width="1" height="3" fill="#000"/>
<rect x="570" y="928" width="1" height="3" fill="#000"/>
<rect x="634" y="928" width="1" height="3" fill="#000"/>
<rect x="698" y="928" width="1" height="3" fill="#000"/>
<rect x="762" y="928" width="1" height="3" fill="#000"/>
<rect x="826" y="928" width="1" height="3" fill="#000"/>
<rect x="890" y="928" width="1" height="3" fill="#000"/>
<rect x="954" y="928" width="1" height="3" fill="#000"/>
<rect x="1018" y="928" width="1" height="3" fill="#000"/>
<rect x="1082" y="928" width="1" height="3" fill="#000"/>
<rect x="1146" y="928" width="1" height="3" fill="#000"/>
<rect x="1210" y="928" width="1" height="3" fill="#000"/>
<rect x="1274" y="928" width="1" height="3" fill="#000"/>
<rect x="1338" y="928" width="1" height="3" fill="#000"/>
</g>
<text class="ax" x="-6.5" y="940.3">9 Jun 2021</text>
<text class="ax" x="57.5" y="940.3">11 Jun 00:00</text>
<text class="ax" x="121.5" y="940.3">14 Jun 10:55</text>
<text class="ax" x="185.5" y="940.3">15 Jun 18:55</text>
<text class="ax" x="249.5" y="940.3">17 Jun 00:00</text>
<text class="ax" x="313.5" y="940.3">18 Jun 10:55</text>
<text class="ax" x="377.5" y="940.3">21 Jun 18:55</text>
<text class="ax" x="441.5" y="940.3">23 Jun 00:00</text>
<text class="ax" x="505.5" y="940.3">24 Jun 10:55</text>
<text class="ax" x="569.5" y="940.3">25 Jun 18:55</text>
<text class="ax" x="633.5" y="940.3">29 Jun 00:00</text>
<text class="ax" x="697.5" y="940.3">30 Jun 10:55</text>
<text class="ax" x="761.5" y="940.3">1 Jul 18:55</text>
<text class="ax" x="825.5" y="940.3">5 Jul 00:00</text>
<text class="ax" x="889.5" y="940.3">6 Jul 10:55</text>
<text class="ax" x="953.5" y="940.3">7 Jul 18:55</text>
<text class="ax" x="1017.5" y="940.3">9 Jul 00:00</text>
<text class="ax" x="1081.5" y="940.3">12 Jul 10:55</text>
<text class="ax" x="1145.5" y="940.3">13 Jul 18:55</text>
<text class="ax" x="1209.5" y="940.3">15 Jul 00:00</text>
<text class="ax" x="1273.5" y="940.3">16 Jul 10:55</text>
<text class="ax" x="1337.5" y="940.3">19 Jul 18:55</text>
</svg>
<svg style="position:absolute;left:0;top:0" width="1699" height="22" viewBox="0 0 1699 22">
<defs>
<linearGradient id="gG" x1="0" y1="0" x2="0" y2="1"><stop offset="0" stop-color="#5be25b"/><stop offset="1" stop-color="#0a9a0a"/></linearGradient>
<linearGradient id="gY" x1="0" y1="0" x2="1" y2="1"><stop offset="0" stop-color="#f8dc70"/><stop offset="1" stop-color="#b07a10"/></linearGradient>
<linearGradient id="gB" x1="0" y1="0" x2="0" y2="1"><stop offset="0" stop-color="#5aa8f0"/><stop offset="1" stop-color="#1458c0"/></linearGradient>
<pattern id="sel" width="2" height="2" patternUnits="userSpaceOnUse"><rect width="2" height="2" fill="#f6f6f6"/><rect width="1" height="1" fill="#e9e9e9"/><rect x="1" y="1" width="1" height="1" fill="#e9e9e9"/></pattern>
</defs>
<circle cx="-0.5" cy="9.5" r="3.6" fill="#bcd8f4" stroke="#6a9ad8" stroke-width="1.2"/>
<line x1="1.5" y1="14" x2="5" y2="18.5" stroke="#c8981c" stroke-width="3"/>
<path d="M9.5 11.8 l1.7 1.7 l-1.7 1.7 l-1.7 -1.7 z" fill="none" stroke="#222" stroke-width="0.9"/>
<rect x="13" y="1" width="1" height="19" fill="#a0a0a0"/>
<path d="M23.5 2.5 h7.5 l3.5 3.5 v9.5 h-11 z" fill="#fdfdfd" stroke="#8a8a8a" stroke-width="1"/>
<path d="M25.5 6.5 h4 M25.5 9.5 h6 M25.5 12.5 h4" stroke="#9a9a9a" stroke-width="1"/>
<path d="M31.5 8.3 h3.5 v3.8 h3.8 v3.5 h-3.8 v3.8 h-3.5 v-3.8 h-3.8 v-3.5 h3.8 z" fill="url(#gG)" stroke="#0a8a0a" stroke-width="0.7"/>
<text class="cn" x="41.5" y="14.3" textLength="36.5" lengthAdjust="spacingAndGlyphs">新订单</text>
<polygon points="90.5,11.5 96.5,3 106,9.5 100,18" fill="url(#gY)" stroke="#a8780c" stroke-width="0.8"/>
<path d="M90.5 11.5 L100 18 L100.5 16 L91.5 10" fill="#8a5c08"/>
<path d="M120.5 3.5 L123 2.5 H131 V11 H120.5 z" fill="url(#gB)" stroke="#1c60c8" stroke-width="0.6"/>
<rect x="124" y="5" width="5.5" height="2" fill="#d8ecff"/>
<path d="M120.5 17.5 a3.2 3.2 0 0 1 0.3 -6.3 a4 4 0 0 1 7.4 -0.8 a3.6 3.6 0 0 1 5.3 3.6 a2 2 0 0 1 -1 3.5 z" fill="#e8f0fa" stroke="#5a86c8" stroke-width="1"/>
<path d="M154 1.5 a8 8 0 0 0 0 16" fill="none" stroke="#3a68d0" stroke-width="1.3" opacity="0.45"/>
<path d="M154 1.5 a8 8 0 0 1 0 16" fill="none" stroke="#4aa84a" stroke-width="1.3" opacity="0.45"/>
<path d="M154 4 a5.5 5.5 0 0 0 0 11" fill="none" stroke="#3a68d0" stroke-width="1.3" opacity="0.7"/>
<path d="M154 4 a5.5 5.5 0 0 1 0 11" fill="none" stroke="#4aa84a" stroke-width="1.3" opacity="0.7"/>
<path d="M154 6.5 a3 3 0 0 0 0 6" fill="none" stroke="#3a68d0" stroke-width="1.3" opacity="1"/>
<path d="M154 6.5 a3 3 0 0 1 0 6" fill="none" stroke="#4aa84a" stroke-width="1.3" opacity="1"/>
<circle cx="154" cy="9.5" r="1.6" fill="#2a58d0"/>
<line x1="154.3" y1="10" x2="154.3" y2="17.5" stroke="#2aa02a" stroke-width="1.3"/>
<polygon points="174,7.5 187.5,7.5 182.5,18" fill="#f6d648" stroke="#d8a020" stroke-width="0.7"/>
<polygon points="174.5,8 180,8 182.5,17.5" fill="#fbe88a"/>
<ellipse cx="181" cy="7" rx="8" ry="2.3" fill="#3f8fdc"/>
<path d="M177 6.5 a4 4.6 0 0 1 8 0 z" fill="#62aef0"/>
<circle cx="185.5" cy="13.8" r="4" fill="#e02818"/>
<rect x="183.8" y="12.1" width="3.4" height="3.4" fill="#fff"/>
<text class="cn" x="194" y="14.3" textLength="47.5" lengthAdjust="spacingAndGlyphs">自动交易</text>
<rect x="249" y="0" width="1" height="21" fill="#9a9a9a"/>
<rect x="253" y="1" width="3" height="1" fill="#a8a8a8"/>
<rect x="253" y="3" width="3" height="1" fill="#a8a8a8"/>
<rect x="253" y="5" width="3" height="1" fill="#a8a8a8"/>
<rect x="253" y="7" width="3" height="1" fill="#a8a8a8"/>
<rect x="253" y="9" width="3" height="1" fill="#a8a8a8"/>
<rect x="253" y="11" width="3" height="1" fill="#a8a8a8"/>
<rect x="253" y="13" width="3" height="1" fill="#a8a8a8"/>
<rect x="253" y="15" width="3" height="1" fill="#a8a8a8"/>
<rect x="253" y="17" width="3" height="1" fill="#a8a8a8"/>
<rect x="253" y="19" width="3" height="1" fill="#a8a8a8"/>
<path d="M267.5 4 V18 M264.5 15.5 H279" stroke="#5a5a5a" stroke-width="1.05" fill="none"/>
<polygon points="267.5,2.8 265.8,6 269.2,6" fill="#5a5a5a"/>
<polygon points="279.6,15.5 276.8,13.8 276.8,17.2" fill="#5a5a5a"/>
<path d="M273.5 5.5 V13 M271 12.5 H273.5 M273.5 6 H276.5" stroke="#18a018" stroke-width="1.4" fill="none"/>
<rect x="287" y="1" width="1" height="19" fill="#a0a0a0"/>
<rect x="288" y="0" width="24" height="21" fill="url(#sel)"/>
<path d="M295.5 4 V18 M292.5 15.5 H307" stroke="#5a5a5a" stroke-width="1.05" fill="none"/>
<polygon points="295.5,2.8 293.8,6 297.2,6" fill="#5a5a5a"/>
<polygon points="307.6,15.5 304.8,13.8 304.8,17.2" fill="#5a5a5a"/>
<line x1="301.5" y1="2" x2="301.5" y2="13.5" stroke="#0a7a0a" stroke-width="1.2"/>
<rect x="299.5" y="4.5" width="4.5" height="7" fill="#30d030" stroke="#0a8a0a" stroke-width="0.8"/>
<path d="M323.5 4 V18 M320.5 15.5 H335" stroke="#5a5a5a" stroke-width="1.05" fill="none"/>
<polygon points="323.5,2.8 321.8,6 325.2,6" fill="#5a5a5a"/>
<polygon points="335.6,15.5 332.8,13.8 332.8,17.2" fill="#5a5a5a"/>
<path d="M322.5 12.5 Q327 5.5 329.5 7.5 T334.5 11" stroke="#18a018" stroke-width="1.2" fill="none"/>
<rect x="344" y="1" width="1" height="19" fill="#a0a0a0"/>
<line x1="363" y1="12" x2="368" y2="17" stroke="#d0a020" stroke-width="2.6"/>
<circle cx="359" cy="8" r="5.3" fill="#cfe6fa" stroke="#3a78d0" stroke-width="1.3"/>
<rect x="356" y="7.2" width="6" height="1.7" fill="#2a68c8"/>
<rect x="358.15" y="5" width="1.7" height="6" fill="#2a68c8"/>
<line x1="390.5" y1="12" x2="395.5" y2="17" stroke="#d0a020" stroke-width="2.6"/>
<circle cx="386.5" cy="8" r="5.3" fill="#cfe6fa" stroke="#3a78d0" stroke-width="1.3"/>
<rect x="383.5" y="7.2" width="6" height="1.7" fill="#2a68c8"/>
<rect x="409" y="2" width="7.8" height="7.5" fill="#3aa818"/>
<rect x="410.4" y="5.2" width="5" height="2.6" fill="#e8f4e0"/>
<rect x="417.3" y="2" width="7.8" height="7.5" fill="#1848d0"/>
<rect x="418.7" y="5.2" width="5" height="2.6" fill="#e8f4e0"/>
<rect x="409" y="9.8" width="7.8" height="7.5" fill="#1848d0"/>
<rect x="410.4" y="13" width="5" height="2.6" fill="#e8f4e0"/>
<rect x="417.3" y="9.8" width="7.8" height="7.5" fill="#3aa818"/>
<rect x="418.7" y="13" width="5" height="2.6" fill="#e8f4e0"/>
<rect x="434" y="1" width="1" height="19" fill="#a0a0a0"/>
<rect x="439" y="0" width="25" height="21" fill="url(#sel)"/>
<path d="M447.5 4 V18 M444.5 15.5 H459" stroke="#5a5a5a" stroke-width="1.05" fill="none"/>
<polygon points="447.5,2.8 445.8,6 449.2,6" fill="#5a5a5a"/>
<polygon points="459.6,15.5 456.8,13.8 456.8,17.2" fill="#5a5a5a"/>
<polygon points="452,7 452,12.5 456,9.7" fill="#30c030" stroke="#109010" stroke-width="0.6"/>
<rect x="467" y="1" width="1" height="19" fill="#a0a0a0"/>
<rect x="468.5" y="0" width="24" height="21" fill="url(#sel)"/>
<path d="M475.5 4 V18 M472.5 15.5 H487" stroke="#5a5a5a" stroke-width="1.05" fill="none"/>
<polygon points="475.5,2.8 473.8,6 477.2,6" fill="#5a5a5a"/>
<polygon points="487.6,15.5 484.8,13.8 484.8,17.2" fill="#5a5a5a"/>
<line x1="481.5" y1="4" x2="481.5" y2="13.5" stroke="#2060c0" stroke-width="1.2"/>
<path d="M487.5 9.5 H483.5 M485.5 7.5 L483 9.5 L485.5 11.5" stroke="#d83010" stroke-width="1.1" fill="none"/>
<rect x="496" y="1" width="1" height="19" fill="#a0a0a0"/>
<path d="M506.5 2.5 h7.5 l3.5 3.5 v9.5 h-11 z" fill="#fdfdfd" stroke="#8a8a8a" stroke-width="1"/>
<path d="M508.5 6.5 h4 M508.5 9.5 h6 M508.5 12.5 h4" stroke="#9a9a9a" stroke-width="1"/>
<path d="M514.5 8.3 h3.5 v3.8 h3.8 v3.5 h-3.8 v3.8 h-3.5 v-3.8 h-3.8 v-3.5 h3.8 z" fill="url(#gG)" stroke="#0a8a0a" stroke-width="0.7"/>
<polygon points="528.5,9 534.5,9 531.5,12.2" fill="#111"/>
<circle cx="552" cy="9.8" r="7" fill="#fff" stroke="url(#gB)" stroke-width="2.2"/>
<path d="M552 5.5 V10 H555.5" stroke="#555" stroke-width="1" fill="none"/>
<polygon points="567.5,9 573.5,9 570.5,12.2" fill="#111"/>
<rect x="583.5" y="3.5" width="15.5" height="13" fill="#fff" stroke="#3a78d0" stroke-width="1.2"/>
<rect x="583.5" y="3.5" width="15.5" height="2" fill="#5a98e0"/>
<path d="M585.5 9.5 l3 -1 l2.5 0.8 l3 -1.5 l3 0.5" stroke="#c03010" stroke-width="1.1" fill="none"/>
<path d="M585.5 14.5 l3 -1.5 l2.5 1 l3 -2 l3 2" stroke="#20a020" stroke-width="1.1" fill="none"/>
<polygon points="606.5,9 612.5,9 609.5,12.2" fill="#111"/>
<rect x="617" y="0" width="1" height="21" fill="#9a9a9a"/>
<rect x="621" y="1" width="3" height="1" fill="#a8a8a8"/>
<rect x="621" y="3" width="3" height="1" fill="#a8a8a8"/>
<rect x="621" y="5" width="3" height="1" fill="#a8a8a8"/>
<rect x="621" y="7" width="3" height="1" fill="#a8a8a8"/>
<rect x="621" y="9" width="3" height="1" fill="#a8a8a8"/>
<rect x="621" y="11" width="3" height="1" fill="#a8a8a8"/>
<rect x="621" y="13" width="3" height="1" fill="#a8a8a8"/>
<rect x="621" y="15" width="3" height="1" fill="#a8a8a8"/>
<rect x="621" y="17" width="3" height="1" fill="#a8a8a8"/>
<rect x="621" y="19" width="3" height="1" fill="#a8a8a8"/>
<rect x="627" y="1" width="1" height="19" fill="#a0a0a0"/>
<rect x="628" y="0" width="24" height="21" fill="url(#sel)"/>
<polygon points="635,3 635,15.2 638,12.6 640.3,17.2 642.3,16.2 640,11.7 643.8,11.7" fill="#3c3c3c"/>
<path d="M660 10.5 H666 M669 10.5 H675 M667.5 3.5 V9 M667.5 12 V18" stroke="#505050" stroke-width="1.2"/>
<rect x="684" y="1" width="1" height="19" fill="#a0a0a0"/>
<line x1="701.5" y1="4" x2="701.5" y2="16.8" stroke="#505050" stroke-width="1.3"/>
<line x1="724" y1="10.5" x2="736" y2="10.5" stroke="#505050" stroke-width="1.3"/>
<line x1="752" y1="17" x2="764" y2="5" stroke="#505050" stroke-width="1.2"/>
<path d="M778 14.5 L791 3.5 M780 17 L792.5 8 M780.5 11 l2 5 M783.5 8.5 l2 5.5 M786.5 6 l2 5.5 M789.5 3.5 l1.5 5" stroke="#505050" stroke-width="1.1" fill="none"/>
<text x="788.8" y="18.8" style="font-size:6.5px;font-weight:bold;fill:#333">E</text>
<line x1="807" y1="3.5" x2="820" y2="3.5" stroke="#505050" stroke-width="1" stroke-dasharray="1 1" shape-rendering="crispEdges"/>
<line x1="807" y1="6.5" x2="820" y2="6.5" stroke="#505050" stroke-width="1" stroke-dasharray="1 1" shape-rendering="crispEdges"/>
<line x1="807" y1="10" x2="820" y2="10" stroke="#505050" stroke-width="1" stroke-dasharray="1 1" shape-rendering="crispEdges"/>
<line x1="807" y1="14.5" x2="816" y2="14.5" stroke="#505050" stroke-width="1" stroke-dasharray="1 1" shape-rendering="crispEdges"/>
<text x="816.5" y="18.8" style="font-size:6.5px;font-weight:bold;fill:#333">F</text>
<text x="837.3" y="14.6" style="font-size:12.5px;font-weight:bold;fill:#555">A</text>
<rect x="864.5" y="4.5" width="11" height="12" fill="none" stroke="#505050" stroke-width="1" stroke-dasharray="1 1" shape-rendering="crispEdges"/>
<text x="866.2" y="14.6" style="font-size:10.5px;font-weight:bold;fill:#555">T</text>
<polygon points="892.5,7 896.5,3.2 900.5,7 896.5,9" fill="#444"/>
<polygon points="899,13 903,11 907,13 903,16.8" fill="#444"/>
<path d="M895.5 10.5 l1.8 2 l4.8 -5.5" stroke="#444" stroke-width="1.3" fill="none"/>
<polygon points="911.5,9 917.5,9 914.5,12.3" fill="#111"/>
<rect x="923" y="0" width="1" height="21" fill="#9a9a9a"/>
<rect x="927" y="1" width="3" height="1" fill="#a8a8a8"/>
<rect x="927" y="3" width="3" height="1" fill="#a8a8a8"/>
<rect x="927" y="5" width="3" height="1" fill="#a8a8a8"/>
<rect x="927" y="7" width="3" height="1" fill="#a8a8a8"/>
<rect x="927" y="9" width="3" height="1" fill="#a8a8a8"/>
<rect x="927" y="11" width="3" height="1" fill="#a8a8a8"/>
<rect x="927" y="13" width="3" height="1" fill="#a8a8a8"/>
<rect x="927" y="15" width="3" height="1" fill="#a8a8a8"/>
<rect x="927" y="17" width="3" height="1" fill="#a8a8a8"/>
<rect x="927" y="19" width="3" height="1" fill="#a8a8a8"/>
<rect x="1073" y="1" width="1" height="19" fill="#a0a0a0"/>
<rect x="1074" y="0" width="25" height="21" fill="url(#sel)"/>
<text class="tf" x="938.2" y="14.3">M1</text>
<text class="tf" x="966" y="14.3">M5</text>
<text class="tf" x="992" y="14.3">M15</text>
<text class="tf" x="1020.3" y="14.3">M30</text>
<text class="tf" x="1051" y="14.3">H1</text>
<text class="tf" x="1078.4" y="14.3">H4</text>
<text class="tf" x="1107.6" y="14.3">D1</text>
<text class="tf" x="1134.8" y="14.3">W1</text>
<text class="tf" x="1162" y="14.3">MN</text>
<rect x="1184" y="1" width="1" height="19" fill="#a0a0a0"/>
<circle cx="1655.5" cy="7" r="3.6" fill="#f4f8ff" stroke="#2a58c8" stroke-width="1.5"/>
<line x1="1652.8" y1="10" x2="1647.5" y2="15" stroke="#2a58c8" stroke-width="2.4"/>
<ellipse cx="1676.5" cy="11.5" rx="5.6" ry="4.6" fill="#e9e9ee" stroke="#a8a8ac" stroke-width="0.9"/>
<polygon points="1673.2,14.8 1674,18.8 1677,15.6" fill="#dcdce4" stroke="#a0a0a4" stroke-width="0.6"/>
<linearGradient id="gR" x1="0" y1="0" x2="0" y2="1"><stop offset="0" stop-color="#e96444"/><stop offset="1" stop-color="#d61a04"/></linearGradient>
<circle cx="1685.4" cy="7.6" r="8.3" fill="url(#gR)"/>
<text x="1684.6" y="12" text-anchor="middle" style="font-size:12.5px;font-weight:bold;fill:#fff">1</text>
</svg>
<div id="panel">
<div class="pb" style="left:0;top:0;width:48px;height:24px;padding-right:4px;font-size:11px">SELL</div>
<div class="pb" style="left:165px;top:0;width:51px;height:24px;padding-right:3px;font-size:11px">BUY</div>
<div class="pp" style="left:0;top:24px;width:106px;height:33px;"></div>
<div class="pp" style="left:108px;top:24px;width:108px;height:33px;"></div>
<div style="left:2px;top:24px;width:43px;height:1px;background:#f08a8a;"></div>
<div style="left:168px;top:24px;width:44px;height:1px;background:#f08a8a;"></div>
<div style="left:51px;top:0;width:112px;height:22px;background:#fff;border:1px solid #b9bdc4;border-radius:2px;"></div>
<div style="left:52px;top:1px;width:20px;height:20px;background:linear-gradient(#f2f2f2,#cfcfcf);border-right:1px solid #b9bdc4;"></div>
<div style="left:141px;top:1px;width:21px;height:20px;background:linear-gradient(#f2f2f2,#cfcfcf);border-left:1px solid #b9bdc4;"></div>
<div style="left:58px;top:9px;width:0;height:0;border-left:3px solid transparent;border-right:3px solid transparent;border-top:4px solid #4a5fc0;"></div>
<div style="left:148px;top:8px;width:0;height:0;border-left:3px solid transparent;border-right:3px solid transparent;border-bottom:4px solid #4a5fc0;"></div>
<div style="left:73px;top:0;width:64px;height:22px;line-height:22px;text-align:right;font-size:12.5px;color:#222;">1.00</div>
<div class="sm" style="left:12.5px;top:41px;letter-spacing:0.3px">27703</div>
<div class="bg" style="left:49.5px;top:24px;">.5</div>
<div class="sm" style="left:122.5px;top:41px;letter-spacing:0.3px">27726</div>
<div class="bg" style="left:159.5px;top:24px;">.5</div>
</div>
</body></html>
